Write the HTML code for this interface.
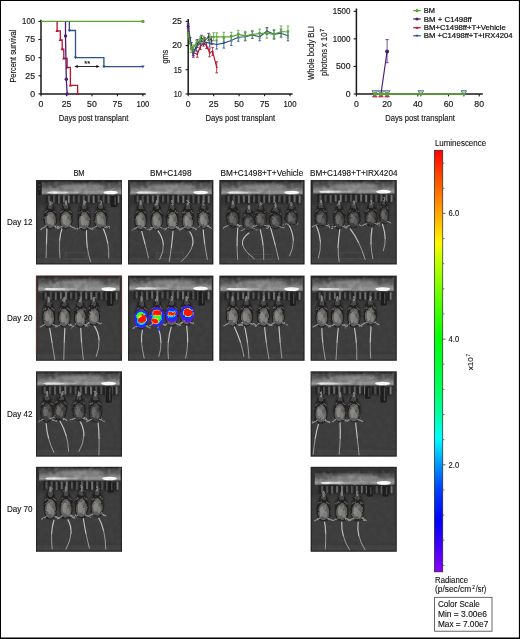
<!DOCTYPE html>
<html lang="en"><head><meta charset="utf-8"><title>Figure</title>
<style>html,body{margin:0;padding:0;background:#fff;}body{width:520px;height:639px;overflow:hidden;font-family:"Liberation Sans", sans-serif;}svg{display:block;font-family:"Liberation Sans", sans-serif;}</style></head><body>
<svg width="520" height="639" viewBox="0 0 520 639">

<defs>
<filter id="b1" x="-10%" y="-10%" width="120%" height="120%"><feGaussianBlur stdDeviation="2.6"/></filter>
<filter id="b2" x="-10%" y="-10%" width="120%" height="120%"><feGaussianBlur stdDeviation="4.5"/></filter>
<filter id="b3" x="-20%" y="-20%" width="140%" height="140%"><feGaussianBlur stdDeviation="7"/></filter>
<filter id="bt" x="-30%" y="-10%" width="160%" height="120%"><feGaussianBlur stdDeviation="1.8"/></filter>
<filter id="bl" x="-10%" y="-10%" width="120%" height="120%" color-interpolation-filters="sRGB">
 <feTurbulence type="fractalNoise" baseFrequency="0.035" numOctaves="2" seed="5" result="t"/>
 <feDisplacementMap in="SourceGraphic" in2="t" scale="17" xChannelSelector="R" yChannelSelector="G" result="d"/>
 <feGaussianBlur in="d" stdDeviation="2.6"/>
</filter>
<filter id="mf" x="-5%" y="-5%" width="110%" height="110%" color-interpolation-filters="sRGB">
 <feTurbulence type="fractalNoise" baseFrequency="0.045" numOctaves="2" seed="7" result="t"/>
 <feDisplacementMap in="SourceGraphic" in2="t" scale="16" xChannelSelector="R" yChannelSelector="G" result="d"/>
 <feGaussianBlur in="d" stdDeviation="3.0"/>
</filter>
<filter id="grain" x="0" y="0" width="100%" height="100%" color-interpolation-filters="sRGB">
 <feTurbulence type="fractalNoise" baseFrequency="0.03" numOctaves="2" seed="3" result="n"/>
 <feColorMatrix in="n" type="matrix" values="0 0 0 0 0  0 0 0 0 0  0 0 0 0 0  2.2 0 0 0 -0.75" result="na"/>
 <feFlood flood-color="#000"/>
 <feComposite in2="na" operator="in" result="dark"/>
 <feTurbulence type="fractalNoise" baseFrequency="0.035" numOctaves="2" seed="11" result="n2"/>
 <feColorMatrix in="n2" type="matrix" values="0 0 0 0 1  0 0 0 0 1  0 0 0 0 1  0 2.2 0 0 -0.8" result="light"/>
 <feMerge><feMergeNode in="dark"/><feMergeNode in="light"/></feMerge>
</filter>
<linearGradient id="barg" x1="0" y1="0" x2="0" y2="1">
 <stop offset="0" stop-color="#222222"/><stop offset="0.1" stop-color="#424242"/>
 <stop offset="0.38" stop-color="#5c5c5c"/><stop offset="0.58" stop-color="#7a7a7a"/>
 <stop offset="0.78" stop-color="#989898"/><stop offset="0.9" stop-color="#7c7c7c"/>
 <stop offset="0.96" stop-color="#3a3a3a"/><stop offset="1" stop-color="#141414"/>
</linearGradient>
<linearGradient id="bgg" x1="0" y1="0" x2="0" y2="1">
 <stop offset="0" stop-color="#2e2e2e"/><stop offset="0.3" stop-color="#373737"/>
 <stop offset="0.8" stop-color="#3b3b3b"/><stop offset="1" stop-color="#3a3a3a"/>
</linearGradient>
<linearGradient id="cbar" x1="0" y1="0" x2="0" y2="1">
 <stop offset="0" stop-color="#ff0000"/>
 <stop offset="0.07" stop-color="#ff5200"/>
 <stop offset="0.15" stop-color="#ffa600"/>
 <stop offset="0.22" stop-color="#fff800"/>
 <stop offset="0.26" stop-color="#c4ff00"/>
 <stop offset="0.38" stop-color="#40ff00"/>
 <stop offset="0.45" stop-color="#00ff06"/>
 <stop offset="0.57" stop-color="#00ff60"/>
 <stop offset="0.635" stop-color="#00ffb0"/>
 <stop offset="0.683" stop-color="#00ffff"/>
 <stop offset="0.747" stop-color="#0094ff"/>
 <stop offset="0.80" stop-color="#0044ff"/>
 <stop offset="0.88" stop-color="#0000ff"/>
 <stop offset="0.94" stop-color="#4200ff"/>
 <stop offset="1" stop-color="#8c00ff"/>
</linearGradient>
<g id="mouse">
 <!-- local coords: nose at (0,0), tail base (0,150) -->
 <ellipse cx="0" cy="84" rx="43" ry="72" fill="#2c2c2c" opacity="0.7"/>
 <path d="M0 10C-14 12 -24 30 -24 48C-35 62 -39 90 -36 116C-32 140 -16 151 0 151C16 151 32 140 36 116C39 90 35 62 24 48C24 30 14 12 0 10Z" fill="#202020"/>
 <path d="M-20 136L-50 150" stroke="#909090" stroke-width="6.5" stroke-linecap="round"/>
 <path d="M20 136L50 148" stroke="#909090" stroke-width="6.5" stroke-linecap="round"/>
 <path d="M-16 52L-31 62" stroke="#606060" stroke-width="5.5" stroke-linecap="round"/>
 <path d="M16 52L31 62" stroke="#606060" stroke-width="5.5" stroke-linecap="round"/>
 <path d="M0 56C-19 58 -32 84 -31 110C-30 132 -14 147 0 147C14 147 30 132 31 110C32 84 19 58 0 56Z" fill="#5f5d5b"/>
 <ellipse cx="-7" cy="100" rx="14" ry="26" fill="#8a8885"/>
 <ellipse cx="10" cy="116" rx="11" ry="18" fill="#7f7d7a"/>
 <ellipse cx="5" cy="78" rx="10" ry="11" fill="#74726f"/>
 <ellipse cx="0" cy="26" rx="13" ry="16" fill="#484848"/>
 <ellipse cx="0" cy="8" rx="7" ry="15" fill="#808080"/>
 <ellipse cx="-9" cy="36" rx="5" ry="4" fill="#4c4c4c"/>
 <ellipse cx="9" cy="36" rx="5" ry="4" fill="#4c4c4c"/>
</g>
<g id="mouseD">
 <!-- local coords: nose at (0,0), tail base (0,150) -->
 <ellipse cx="0" cy="84" rx="43" ry="72" fill="#2c2c2c" opacity="0.7"/>
 <path d="M0 10C-14 12 -24 30 -24 48C-35 62 -39 90 -36 116C-32 140 -16 151 0 151C16 151 32 140 36 116C39 90 35 62 24 48C24 30 14 12 0 10Z" fill="#202020"/>
 <path d="M-20 136L-50 150" stroke="#909090" stroke-width="6.5" stroke-linecap="round"/>
 <path d="M20 136L50 148" stroke="#909090" stroke-width="6.5" stroke-linecap="round"/>
 <path d="M-16 52L-31 62" stroke="#606060" stroke-width="5.5" stroke-linecap="round"/>
 <path d="M16 52L31 62" stroke="#606060" stroke-width="5.5" stroke-linecap="round"/>
 <path d="M0 56C-19 58 -32 84 -31 110C-30 132 -14 147 0 147C14 147 30 132 31 110C32 84 19 58 0 56Z" fill="#3f3e3d"/>
 <ellipse cx="-7" cy="100" rx="14" ry="26" fill="#6b6967"/>
 <ellipse cx="10" cy="116" rx="11" ry="18" fill="#5e5c5a"/>
 <ellipse cx="5" cy="78" rx="10" ry="11" fill="#525150"/>
 <ellipse cx="0" cy="26" rx="13" ry="16" fill="#484848"/>
 <ellipse cx="0" cy="8" rx="7" ry="15" fill="#808080"/>
 <ellipse cx="-9" cy="36" rx="5" ry="4" fill="#4c4c4c"/>
 <ellipse cx="9" cy="36" rx="5" ry="4" fill="#4c4c4c"/>
</g>
</defs>

<rect x="0" y="0" width="520" height="639" fill="#fff"/>
<g id="chart1" opacity="0.999"><path d="M41.0 19.799999999999997V93.9H145.70000000000002" fill="none" stroke="#1a1a1a" stroke-width="1.5"/>
<path d="M38.4 93.90H41.0" stroke="#1a1a1a" stroke-width="1.1"/>
<text x="35.0" y="96.80000000000001" font-size="8.2" text-anchor="end" textLength="4.85" lengthAdjust="spacingAndGlyphs" fill="#1c1c1c" stroke="#1c1c1c" stroke-width="0.18" >0</text>
<path d="M38.4 75.78H41.0" stroke="#1a1a1a" stroke-width="1.1"/>
<text x="35.0" y="78.67500000000001" font-size="8.2" text-anchor="end" textLength="9.7" lengthAdjust="spacingAndGlyphs" fill="#1c1c1c" stroke="#1c1c1c" stroke-width="0.18" >25</text>
<path d="M38.4 57.65H41.0" stroke="#1a1a1a" stroke-width="1.1"/>
<text x="35.0" y="60.550000000000004" font-size="8.2" text-anchor="end" textLength="9.7" lengthAdjust="spacingAndGlyphs" fill="#1c1c1c" stroke="#1c1c1c" stroke-width="0.18" >50</text>
<path d="M38.4 39.53H41.0" stroke="#1a1a1a" stroke-width="1.1"/>
<text x="35.0" y="42.425000000000004" font-size="8.2" text-anchor="end" textLength="9.7" lengthAdjust="spacingAndGlyphs" fill="#1c1c1c" stroke="#1c1c1c" stroke-width="0.18" >75</text>
<path d="M38.4 21.40H41.0" stroke="#1a1a1a" stroke-width="1.1"/>
<text x="35.0" y="24.300000000000004" font-size="8.2" text-anchor="end" textLength="12.9" lengthAdjust="spacingAndGlyphs" fill="#1c1c1c" stroke="#1c1c1c" stroke-width="0.18" >100</text>
<path d="M41.00 93.9V96.30000000000001" stroke="#1a1a1a" stroke-width="1.1"/>
<text x="41.0" y="107.2" font-size="8.2" text-anchor="middle" textLength="4.85" lengthAdjust="spacingAndGlyphs" fill="#1c1c1c" stroke="#1c1c1c" stroke-width="0.18" >0</text>
<path d="M66.47 93.9V96.30000000000001" stroke="#1a1a1a" stroke-width="1.1"/>
<text x="66.475" y="107.2" font-size="8.2" text-anchor="middle" textLength="9.7" lengthAdjust="spacingAndGlyphs" fill="#1c1c1c" stroke="#1c1c1c" stroke-width="0.18" >25</text>
<path d="M91.95 93.9V96.30000000000001" stroke="#1a1a1a" stroke-width="1.1"/>
<text x="91.95" y="107.2" font-size="8.2" text-anchor="middle" textLength="9.7" lengthAdjust="spacingAndGlyphs" fill="#1c1c1c" stroke="#1c1c1c" stroke-width="0.18" >50</text>
<path d="M117.42 93.9V96.30000000000001" stroke="#1a1a1a" stroke-width="1.1"/>
<text x="117.425" y="107.2" font-size="8.2" text-anchor="middle" textLength="9.7" lengthAdjust="spacingAndGlyphs" fill="#1c1c1c" stroke="#1c1c1c" stroke-width="0.18" >75</text>
<path d="M142.90 93.9V96.30000000000001" stroke="#1a1a1a" stroke-width="1.1"/>
<text x="142.9" y="107.2" font-size="8.2" text-anchor="middle" textLength="12.9" lengthAdjust="spacingAndGlyphs" fill="#1c1c1c" stroke="#1c1c1c" stroke-width="0.18" >100</text>
<path d="M41.0 21.4H142.9" stroke="#5aa52e" stroke-width="1.3" fill="none"/>
<circle cx="142.9" cy="21.4" r="1.7" fill="#5aa52e"/>
<path d="M57.1 21.4V30.8H60.3V40.0H62.2V49.2H63.8V58.3H67.1V67.3H70.4V85.3H77.6V93.9" fill="none" stroke="#b5122f" stroke-width="1.3"/>
<path d="M55.40 31.90L57.1 29.20L58.80 31.90Z" fill="#b5122f"/>
<path d="M58.60 41.10L60.3 38.40L62.00 41.10Z" fill="#b5122f"/>
<path d="M60.50 50.30L62.2 47.60L63.90 50.30Z" fill="#b5122f"/>
<path d="M62.10 59.40L63.8 56.70L65.50 59.40Z" fill="#b5122f"/>
<path d="M65.40 68.40L67.1 65.70L68.80 68.40Z" fill="#b5122f"/>
<path d="M68.70 86.40L70.4 83.70L72.10 86.40Z" fill="#b5122f"/>
<path d="M75.90 95.00L77.6 92.30L79.30 95.00Z" fill="#b5122f"/>
<path d="M69.35 21.4V30.5H75.5V57.65H103.9V66.7H142.9" fill="none" stroke="#2f4f8f" stroke-width="1.3"/>
<path d="M67.65 29.40L69.35 32.10L71.05 29.40Z" fill="#2f4f8f"/>
<path d="M73.80 56.55L75.5 59.25L77.20 56.55Z" fill="#2f4f8f"/>
<path d="M102.20 65.60L103.9 68.30L105.60 65.60Z" fill="#2f4f8f"/>
<path d="M141.20 65.60L142.9 68.30L144.60 65.60Z" fill="#2f4f8f"/>
<path d="M65.5 21.4V35.9L66.3 79.3L67.2 93.9" fill="none" stroke="#4a1f73" stroke-width="1.3"/>
<circle cx="65.5" cy="35.9" r="1.7" fill="#4a1f73"/>
<circle cx="66.3" cy="79.3" r="1.7" fill="#4a1f73"/>
<circle cx="67.2" cy="93.9" r="1.7" fill="#4a1f73"/>
<path d="M76.5 66.5H97.8" stroke="#111" stroke-width="0.9"/>
<path d="M74.3 66.5L77.8 65.0V68.0Z" fill="#111"/>
<path d="M99.8 66.5L96.3 65.0V68.0Z" fill="#111"/>
<text x="87.2" y="66.4" font-size="7.5" text-anchor="middle" fill="#111" stroke="#111" stroke-width="0.12" >**</text>
<text x="58.7" y="120.8" font-size="9.9" text-anchor="start" textLength="69.6" lengthAdjust="spacingAndGlyphs" fill="#1a1a1a" stroke="#1a1a1a" stroke-width="0.18" >Days post transplant</text>
<g transform="translate(16.0 82.6) rotate(-90)"><text x="0" y="0" font-size="9.9" text-anchor="start" textLength="53.0" lengthAdjust="spacingAndGlyphs" fill="#1a1a1a" stroke="#1a1a1a" stroke-width="0.18" >Percent survival</text></g></g>
<g id="chart2" opacity="0.999"><path d="M188.2 19.0V93.95H292.6" fill="none" stroke="#1a1a1a" stroke-width="1.5"/>
<path d="M185.6 93.95H188.2" stroke="#1a1a1a" stroke-width="1.1"/>
<text x="181.89999999999998" y="96.85000000000001" font-size="8.2" text-anchor="end" textLength="8.05" lengthAdjust="spacingAndGlyphs" fill="#1c1c1c" stroke="#1c1c1c" stroke-width="0.18" >10</text>
<path d="M185.6 69.73H188.2" stroke="#1a1a1a" stroke-width="1.1"/>
<text x="181.89999999999998" y="72.63333333333334" font-size="8.2" text-anchor="end" textLength="8.05" lengthAdjust="spacingAndGlyphs" fill="#1c1c1c" stroke="#1c1c1c" stroke-width="0.18" >15</text>
<path d="M185.6 45.52H188.2" stroke="#1a1a1a" stroke-width="1.1"/>
<text x="181.89999999999998" y="48.41666666666667" font-size="8.2" text-anchor="end" textLength="9.7" lengthAdjust="spacingAndGlyphs" fill="#1c1c1c" stroke="#1c1c1c" stroke-width="0.18" >20</text>
<path d="M185.6 21.30H188.2" stroke="#1a1a1a" stroke-width="1.1"/>
<text x="181.89999999999998" y="24.199999999999996" font-size="8.2" text-anchor="end" textLength="9.7" lengthAdjust="spacingAndGlyphs" fill="#1c1c1c" stroke="#1c1c1c" stroke-width="0.18" >25</text>
<path d="M188.20 93.95V96.35000000000001" stroke="#1a1a1a" stroke-width="1.1"/>
<text x="188.2" y="107.2" font-size="8.2" text-anchor="middle" textLength="4.85" lengthAdjust="spacingAndGlyphs" fill="#1c1c1c" stroke="#1c1c1c" stroke-width="0.18" >0</text>
<path d="M213.65 93.95V96.35000000000001" stroke="#1a1a1a" stroke-width="1.1"/>
<text x="213.64999999999998" y="107.2" font-size="8.2" text-anchor="middle" textLength="9.7" lengthAdjust="spacingAndGlyphs" fill="#1c1c1c" stroke="#1c1c1c" stroke-width="0.18" >25</text>
<path d="M239.10 93.95V96.35000000000001" stroke="#1a1a1a" stroke-width="1.1"/>
<text x="239.1" y="107.2" font-size="8.2" text-anchor="middle" textLength="9.7" lengthAdjust="spacingAndGlyphs" fill="#1c1c1c" stroke="#1c1c1c" stroke-width="0.18" >50</text>
<path d="M264.55 93.95V96.35000000000001" stroke="#1a1a1a" stroke-width="1.1"/>
<text x="264.55" y="107.2" font-size="8.2" text-anchor="middle" textLength="9.7" lengthAdjust="spacingAndGlyphs" fill="#1c1c1c" stroke="#1c1c1c" stroke-width="0.18" >75</text>
<path d="M290.00 93.95V96.35000000000001" stroke="#1a1a1a" stroke-width="1.1"/>
<text x="290.0" y="107.2" font-size="8.2" text-anchor="middle" textLength="12.9" lengthAdjust="spacingAndGlyphs" fill="#1c1c1c" stroke="#1c1c1c" stroke-width="0.18" >100</text>
<path d="M188.20 23.94V28.34M186.90 23.94H189.50M186.90 28.34H189.50" stroke="#4a1f73" stroke-width="0.85" fill="none"/>
<path d="M190.24 37.67V43.67M188.94 37.67H191.54M188.94 43.67H191.54" stroke="#4a1f73" stroke-width="0.85" fill="none"/>
<path d="M193.29 50.25V57.25M191.99 50.25H194.59M191.99 57.25H194.59" stroke="#4a1f73" stroke-width="0.85" fill="none"/>
<path d="M197.36 39.58V47.58M196.06 39.58H198.66M196.06 47.58H198.66" stroke="#4a1f73" stroke-width="0.85" fill="none"/>
<path d="M201.43 35.25V41.25M200.13 35.25H202.73M200.13 41.25H202.73" stroke="#4a1f73" stroke-width="0.85" fill="none"/>
<path d="M204.49 37.67V43.67M203.19 37.67H205.79M203.19 43.67H205.79" stroke="#4a1f73" stroke-width="0.85" fill="none"/>
<path d="M208.56 33.30V40.30M207.26 33.30H209.86M207.26 40.30H209.86" stroke="#4a1f73" stroke-width="0.85" fill="none"/>
<path d="M211.61 36.67V44.67M210.31 36.67H212.91M210.31 44.67H212.91" stroke="#4a1f73" stroke-width="0.85" fill="none"/>
<path d="M188.20 26.14L190.24 40.67L193.29 53.75L197.36 43.58L201.43 38.25L204.49 40.67L208.56 36.80L211.61 40.67" fill="none" stroke="#4a1f73" stroke-width="1.15" stroke-linejoin="round"/>
<circle cx="188.20" cy="26.14" r="1.0" fill="#4a1f73"/>
<circle cx="190.24" cy="40.67" r="1.0" fill="#4a1f73"/>
<circle cx="193.29" cy="53.75" r="1.0" fill="#4a1f73"/>
<circle cx="197.36" cy="43.58" r="1.0" fill="#4a1f73"/>
<circle cx="201.43" cy="38.25" r="1.0" fill="#4a1f73"/>
<circle cx="204.49" cy="40.67" r="1.0" fill="#4a1f73"/>
<circle cx="208.56" cy="36.80" r="1.0" fill="#4a1f73"/>
<circle cx="211.61" cy="40.67" r="1.0" fill="#4a1f73"/>
<path d="M188.20 28.99V32.99M186.90 28.99H189.50M186.90 32.99H189.50" stroke="#b5122f" stroke-width="0.85" fill="none"/>
<path d="M191.25 42.52V48.52M189.95 42.52H192.55M189.95 48.52H192.55" stroke="#b5122f" stroke-width="0.85" fill="none"/>
<path d="M193.29 49.78V55.78M191.99 49.78H194.59M191.99 55.78H194.59" stroke="#b5122f" stroke-width="0.85" fill="none"/>
<path d="M197.36 51.23V57.23M196.06 51.23H198.66M196.06 57.23H198.66" stroke="#b5122f" stroke-width="0.85" fill="none"/>
<path d="M200.42 43.49V49.49M199.12 43.49H201.72M199.12 49.49H201.72" stroke="#b5122f" stroke-width="0.85" fill="none"/>
<path d="M203.47 40.09V46.09M202.17 40.09H204.77M202.17 46.09H204.77" stroke="#b5122f" stroke-width="0.85" fill="none"/>
<path d="M206.52 42.52V48.52M205.22 42.52H207.82M205.22 48.52H207.82" stroke="#b5122f" stroke-width="0.85" fill="none"/>
<path d="M209.58 48.78V56.78M208.28 48.78H210.88M208.28 56.78H210.88" stroke="#b5122f" stroke-width="0.85" fill="none"/>
<path d="M212.63 47.33V55.33M211.33 47.33H213.93M211.33 55.33H213.93" stroke="#b5122f" stroke-width="0.85" fill="none"/>
<path d="M216.70 61.81V72.81M215.40 61.81H218.00M215.40 72.81H218.00" stroke="#b5122f" stroke-width="0.85" fill="none"/>
<path d="M188.20 30.99L191.25 45.52L193.29 52.78L197.36 54.23L200.42 46.49L203.47 43.09L206.52 45.52L209.58 52.78L212.63 51.33L216.70 67.31" fill="none" stroke="#b5122f" stroke-width="1.15" stroke-linejoin="round"/>
<path d="M187.10 31.79L188.20 29.89L189.30 31.79Z" fill="#b5122f"/>
<path d="M190.15 46.32L191.25 44.42L192.35 46.32Z" fill="#b5122f"/>
<path d="M192.19 53.58L193.29 51.68L194.39 53.58Z" fill="#b5122f"/>
<path d="M196.26 55.03L197.36 53.13L198.46 55.03Z" fill="#b5122f"/>
<path d="M199.32 47.29L200.42 45.39L201.52 47.29Z" fill="#b5122f"/>
<path d="M202.37 43.89L203.47 41.99L204.57 43.89Z" fill="#b5122f"/>
<path d="M205.42 46.32L206.52 44.42L207.62 46.32Z" fill="#b5122f"/>
<path d="M208.48 53.58L209.58 51.68L210.68 53.58Z" fill="#b5122f"/>
<path d="M211.53 52.13L212.63 50.23L213.73 52.13Z" fill="#b5122f"/>
<path d="M215.60 68.11L216.70 66.21L217.80 68.11Z" fill="#b5122f"/>
<path d="M188.20 24.14V28.14M186.90 24.14H189.50M186.90 28.14H189.50" stroke="#2f4f8f" stroke-width="0.85" fill="none"/>
<path d="M191.25 42.52V48.52M189.95 42.52H192.55M189.95 48.52H192.55" stroke="#2f4f8f" stroke-width="0.85" fill="none"/>
<path d="M193.29 49.30V55.30M191.99 49.30H194.59M191.99 55.30H194.59" stroke="#2f4f8f" stroke-width="0.85" fill="none"/>
<path d="M196.34 44.94V50.94M195.04 44.94H197.64M195.04 50.94H197.64" stroke="#2f4f8f" stroke-width="0.85" fill="none"/>
<path d="M200.42 38.64V44.64M199.12 38.64H201.72M199.12 44.64H201.72" stroke="#2f4f8f" stroke-width="0.85" fill="none"/>
<path d="M203.47 38.64V44.64M202.17 38.64H204.77M202.17 44.64H204.77" stroke="#2f4f8f" stroke-width="0.85" fill="none"/>
<path d="M209.58 39.09V47.09M208.28 39.09H210.88M208.28 47.09H210.88" stroke="#2f4f8f" stroke-width="0.85" fill="none"/>
<path d="M216.70 40.05V49.05M215.40 40.05H218.00M215.40 49.05H218.00" stroke="#2f4f8f" stroke-width="0.85" fill="none"/>
<path d="M223.83 38.09V48.09M222.53 38.09H225.13M222.53 48.09H225.13" stroke="#2f4f8f" stroke-width="0.85" fill="none"/>
<path d="M231.26 35.43V45.43M229.96 35.43H232.56M229.96 45.43H232.56" stroke="#2f4f8f" stroke-width="0.85" fill="none"/>
<path d="M238.29 33.28V41.28M236.99 33.28H239.59M236.99 41.28H239.59" stroke="#2f4f8f" stroke-width="0.85" fill="none"/>
<path d="M245.21 32.80V40.80M243.91 32.80H246.51M243.91 40.80H246.51" stroke="#2f4f8f" stroke-width="0.85" fill="none"/>
<path d="M252.33 31.36V38.36M251.03 31.36H253.63M251.03 38.36H253.63" stroke="#2f4f8f" stroke-width="0.85" fill="none"/>
<path d="M259.66 32.80V40.80M258.36 32.80H260.96M258.36 40.80H260.96" stroke="#2f4f8f" stroke-width="0.85" fill="none"/>
<path d="M266.89 27.49V34.49M265.59 27.49H268.19M265.59 34.49H268.19" stroke="#2f4f8f" stroke-width="0.85" fill="none"/>
<path d="M274.02 30.38V38.38M272.72 30.38H275.32M272.72 38.38H275.32" stroke="#2f4f8f" stroke-width="0.85" fill="none"/>
<path d="M281.04 29.17V37.17M279.74 29.17H282.34M279.74 37.17H282.34" stroke="#2f4f8f" stroke-width="0.85" fill="none"/>
<path d="M287.96 30.83V40.83M286.66 30.83H289.26M286.66 40.83H289.26" stroke="#2f4f8f" stroke-width="0.85" fill="none"/>
<path d="M188.20 26.14L191.25 45.52L193.29 52.30L196.34 47.94L200.42 41.64L203.47 41.64L209.58 43.09L216.70 44.55L223.83 43.09L231.26 40.43L238.29 37.28L245.21 36.80L252.33 34.86L259.66 36.80L266.89 30.99L274.02 34.38L281.04 33.17L287.96 35.83" fill="none" stroke="#2f4f8f" stroke-width="1.15" stroke-linejoin="round"/>
<path d="M187.10 25.34L188.20 27.24L189.30 25.34Z" fill="#2f4f8f"/>
<path d="M190.15 44.72L191.25 46.62L192.35 44.72Z" fill="#2f4f8f"/>
<path d="M192.19 51.50L193.29 53.40L194.39 51.50Z" fill="#2f4f8f"/>
<path d="M195.24 47.14L196.34 49.04L197.44 47.14Z" fill="#2f4f8f"/>
<path d="M199.32 40.84L200.42 42.74L201.52 40.84Z" fill="#2f4f8f"/>
<path d="M202.37 40.84L203.47 42.74L204.57 40.84Z" fill="#2f4f8f"/>
<path d="M208.48 42.30L209.58 44.20L210.68 42.30Z" fill="#2f4f8f"/>
<path d="M215.60 43.75L216.70 45.65L217.80 43.75Z" fill="#2f4f8f"/>
<path d="M222.73 42.30L223.83 44.20L224.93 42.30Z" fill="#2f4f8f"/>
<path d="M230.16 39.63L231.26 41.53L232.36 39.63Z" fill="#2f4f8f"/>
<path d="M237.19 36.48L238.29 38.38L239.39 36.48Z" fill="#2f4f8f"/>
<path d="M244.11 36.00L245.21 37.90L246.31 36.00Z" fill="#2f4f8f"/>
<path d="M251.23 34.06L252.33 35.96L253.43 34.06Z" fill="#2f4f8f"/>
<path d="M258.56 36.00L259.66 37.90L260.76 36.00Z" fill="#2f4f8f"/>
<path d="M265.79 30.19L266.89 32.09L267.99 30.19Z" fill="#2f4f8f"/>
<path d="M272.92 33.58L274.02 35.48L275.12 33.58Z" fill="#2f4f8f"/>
<path d="M279.94 32.37L281.04 34.27L282.14 32.37Z" fill="#2f4f8f"/>
<path d="M286.86 35.03L287.96 36.93L289.06 35.03Z" fill="#2f4f8f"/>
<path d="M188.20 32.38V36.38M186.90 32.38H189.50M186.90 36.38H189.50" stroke="#5aa52e" stroke-width="0.85" fill="none"/>
<path d="M191.25 46.39V52.39M189.95 46.39H192.55M189.95 52.39H192.55" stroke="#5aa52e" stroke-width="0.85" fill="none"/>
<path d="M193.29 44.94V50.94M191.99 44.94H194.59M191.99 50.94H194.59" stroke="#5aa52e" stroke-width="0.85" fill="none"/>
<path d="M196.34 40.09V46.09M195.04 40.09H197.64M195.04 46.09H197.64" stroke="#5aa52e" stroke-width="0.85" fill="none"/>
<path d="M200.42 36.70V42.70M199.12 36.70H201.72M199.12 42.70H201.72" stroke="#5aa52e" stroke-width="0.85" fill="none"/>
<path d="M203.47 36.22V42.22M202.17 36.22H204.77M202.17 42.22H204.77" stroke="#5aa52e" stroke-width="0.85" fill="none"/>
<path d="M209.58 34.75V41.75M208.28 34.75H210.88M208.28 41.75H210.88" stroke="#5aa52e" stroke-width="0.85" fill="none"/>
<path d="M213.65 32.80V40.80M212.35 32.80H214.95M212.35 40.80H214.95" stroke="#5aa52e" stroke-width="0.85" fill="none"/>
<path d="M216.70 32.80V40.80M215.40 32.80H218.00M215.40 40.80H218.00" stroke="#5aa52e" stroke-width="0.85" fill="none"/>
<path d="M223.83 32.30V41.30M222.53 32.30H225.13M222.53 41.30H225.13" stroke="#5aa52e" stroke-width="0.85" fill="none"/>
<path d="M231.26 32.30V41.30M229.96 32.30H232.56M229.96 41.30H232.56" stroke="#5aa52e" stroke-width="0.85" fill="none"/>
<path d="M238.29 30.38V38.38M236.99 30.38H239.59M236.99 38.38H239.59" stroke="#5aa52e" stroke-width="0.85" fill="none"/>
<path d="M245.21 31.33V40.33M243.91 31.33H246.51M243.91 40.33H246.51" stroke="#5aa52e" stroke-width="0.85" fill="none"/>
<path d="M252.33 30.38V38.38M251.03 30.38H253.63M251.03 38.38H253.63" stroke="#5aa52e" stroke-width="0.85" fill="none"/>
<path d="M259.66 29.15V38.15M258.36 29.15H260.96M258.36 38.15H260.96" stroke="#5aa52e" stroke-width="0.85" fill="none"/>
<path d="M266.89 28.17V38.17M265.59 28.17H268.19M265.59 38.17H268.19" stroke="#5aa52e" stroke-width="0.85" fill="none"/>
<path d="M274.02 29.38V39.38M272.72 29.38H275.32M272.72 39.38H275.32" stroke="#5aa52e" stroke-width="0.85" fill="none"/>
<path d="M281.04 25.97V36.97M279.74 25.97H282.34M279.74 36.97H282.34" stroke="#5aa52e" stroke-width="0.85" fill="none"/>
<path d="M287.96 25.96V37.96M286.66 25.96H289.26M286.66 37.96H289.26" stroke="#5aa52e" stroke-width="0.85" fill="none"/>
<path d="M188.20 34.38L191.25 49.39L193.29 47.94L196.34 43.09L200.42 39.70L203.47 39.22L209.58 38.25L213.65 36.80L216.70 36.80L223.83 36.80L231.26 36.80L238.29 34.38L245.21 35.83L252.33 34.38L259.66 33.65L266.89 33.17L274.02 34.38L281.04 31.47L287.96 31.96" fill="none" stroke="#5aa52e" stroke-width="1.15" stroke-linejoin="round"/>
<circle cx="188.20" cy="34.38" r="1.0" fill="#5aa52e"/>
<circle cx="191.25" cy="49.39" r="1.0" fill="#5aa52e"/>
<circle cx="193.29" cy="47.94" r="1.0" fill="#5aa52e"/>
<circle cx="196.34" cy="43.09" r="1.0" fill="#5aa52e"/>
<circle cx="200.42" cy="39.70" r="1.0" fill="#5aa52e"/>
<circle cx="203.47" cy="39.22" r="1.0" fill="#5aa52e"/>
<circle cx="209.58" cy="38.25" r="1.0" fill="#5aa52e"/>
<circle cx="213.65" cy="36.80" r="1.0" fill="#5aa52e"/>
<circle cx="216.70" cy="36.80" r="1.0" fill="#5aa52e"/>
<circle cx="223.83" cy="36.80" r="1.0" fill="#5aa52e"/>
<circle cx="231.26" cy="36.80" r="1.0" fill="#5aa52e"/>
<circle cx="238.29" cy="34.38" r="1.0" fill="#5aa52e"/>
<circle cx="245.21" cy="35.83" r="1.0" fill="#5aa52e"/>
<circle cx="252.33" cy="34.38" r="1.0" fill="#5aa52e"/>
<circle cx="259.66" cy="33.65" r="1.0" fill="#5aa52e"/>
<circle cx="266.89" cy="33.17" r="1.0" fill="#5aa52e"/>
<circle cx="274.02" cy="34.38" r="1.0" fill="#5aa52e"/>
<circle cx="281.04" cy="31.47" r="1.0" fill="#5aa52e"/>
<circle cx="287.96" cy="31.96" r="1.0" fill="#5aa52e"/>
<circle cx="188.20" cy="26.14" r="1.5" fill="#4a1f73"/>
<text x="205.5" y="120.8" font-size="9.9" text-anchor="start" textLength="69.6" lengthAdjust="spacingAndGlyphs" fill="#1a1a1a" stroke="#1a1a1a" stroke-width="0.18" >Days post transplant</text>
<g transform="translate(167.6 63.6) rotate(-90)"><text x="0" y="0" font-size="9.9" text-anchor="start" textLength="13.8" lengthAdjust="spacingAndGlyphs" fill="#1a1a1a" stroke="#1a1a1a" stroke-width="0.18" >gms</text></g></g>
<g id="chart3" opacity="0.999"><path d="M356.4 8.5V94.0H482.80" fill="none" stroke="#1a1a1a" stroke-width="1.5"/>
<path d="M353.59999999999997 94.00H356.4" stroke="#1a1a1a" stroke-width="1.1"/>
<text x="350.5" y="96.9" font-size="8.2" text-anchor="end" textLength="4.85" lengthAdjust="spacingAndGlyphs" fill="#1c1c1c" stroke="#1c1c1c" stroke-width="0.18" >0</text>
<path d="M353.59999999999997 66.43H356.4" stroke="#1a1a1a" stroke-width="1.1"/>
<text x="350.5" y="69.33333333333334" font-size="8.2" text-anchor="end" textLength="14.55" lengthAdjust="spacingAndGlyphs" fill="#1c1c1c" stroke="#1c1c1c" stroke-width="0.18" >500</text>
<path d="M353.59999999999997 38.87H356.4" stroke="#1a1a1a" stroke-width="1.1"/>
<text x="350.5" y="41.766666666666666" font-size="8.2" text-anchor="end" textLength="17.75" lengthAdjust="spacingAndGlyphs" fill="#1c1c1c" stroke="#1c1c1c" stroke-width="0.18" >1000</text>
<path d="M353.59999999999997 11.30H356.4" stroke="#1a1a1a" stroke-width="1.1"/>
<text x="350.5" y="14.199999999999998" font-size="8.2" text-anchor="end" textLength="17.75" lengthAdjust="spacingAndGlyphs" fill="#1c1c1c" stroke="#1c1c1c" stroke-width="0.18" >1500</text>
<path d="M356.40 94.0V96.4" stroke="#1a1a1a" stroke-width="1.1"/>
<text x="356.4" y="107.2" font-size="8.2" text-anchor="middle" textLength="4.85" lengthAdjust="spacingAndGlyphs" fill="#1c1c1c" stroke="#1c1c1c" stroke-width="0.18" >0</text>
<path d="M387.10 94.0V96.4" stroke="#1a1a1a" stroke-width="1.1"/>
<text x="387.09999999999997" y="107.2" font-size="8.2" text-anchor="middle" textLength="9.7" lengthAdjust="spacingAndGlyphs" fill="#1c1c1c" stroke="#1c1c1c" stroke-width="0.18" >20</text>
<path d="M417.80 94.0V96.4" stroke="#1a1a1a" stroke-width="1.1"/>
<text x="417.79999999999995" y="107.2" font-size="8.2" text-anchor="middle" textLength="9.7" lengthAdjust="spacingAndGlyphs" fill="#1c1c1c" stroke="#1c1c1c" stroke-width="0.18" >40</text>
<path d="M448.50 94.0V96.4" stroke="#1a1a1a" stroke-width="1.1"/>
<text x="448.5" y="107.2" font-size="8.2" text-anchor="middle" textLength="9.7" lengthAdjust="spacingAndGlyphs" fill="#1c1c1c" stroke="#1c1c1c" stroke-width="0.18" >60</text>
<path d="M479.20 94.0V96.4" stroke="#1a1a1a" stroke-width="1.1"/>
<text x="479.2" y="107.2" font-size="8.2" text-anchor="middle" textLength="9.7" lengthAdjust="spacingAndGlyphs" fill="#1c1c1c" stroke="#1c1c1c" stroke-width="0.18" >80</text>
<path d="M372.02 90.7H377.62L374.82 95.4Z" fill="#cdd6ec" stroke="#2f4f8f" stroke-width="0.75"/>
<path d="M378.16 90.7H383.76L380.96 95.4Z" fill="#cdd6ec" stroke="#2f4f8f" stroke-width="0.75"/>
<path d="M384.30 90.7H389.90L387.10 95.4Z" fill="#cdd6ec" stroke="#2f4f8f" stroke-width="0.75"/>
<path d="M418.07 90.7H423.67L420.87 95.4Z" fill="#cdd6ec" stroke="#2f4f8f" stroke-width="0.75"/>
<path d="M461.05 90.7H466.65L463.85 95.4Z" fill="#cdd6ec" stroke="#2f4f8f" stroke-width="0.75"/>
<path d="M372.42 96.7H377.22L374.82 93.0Z" fill="#b5122f"/>
<path d="M372.22 96.9H377.42" stroke="#b5122f" stroke-width="0.8"/>
<path d="M378.56 96.7H383.36L380.96 93.0Z" fill="#b5122f"/>
<path d="M378.36 96.9H383.56" stroke="#b5122f" stroke-width="0.8"/>
<path d="M384.70 96.7H389.50L387.10 93.0Z" fill="#b5122f"/>
<path d="M384.50 96.9H389.70" stroke="#b5122f" stroke-width="0.8"/>
<path d="M374.82 94.0L380.96 94.0L387.10 51.4" fill="none" stroke="#4a1f73" stroke-width="1.15"/>
<path d="M387.10 39.6V62.7M385.40 39.6H388.80M385.40 62.7H388.80" stroke="#4a1f73" stroke-width="0.75" fill="none"/>
<circle cx="387.10" cy="51.4" r="2.0" fill="#4a1f73"/>
<path d="M374.82 94.0H463.85" stroke="#62ad38" stroke-width="1.7"/>
<circle cx="374.82" cy="94.0" r="1.9" fill="#5aa52e"/>
<circle cx="380.96" cy="94.0" r="1.9" fill="#5aa52e"/>
<circle cx="387.10" cy="94.0" r="1.9" fill="#5aa52e"/>
<path d="M418.57 92.8H423.17L420.87 97.2Z" fill="#5aa52e"/>
<path d="M461.55 92.8H466.15L463.85 97.2Z" fill="#5aa52e"/>
<text x="385.2" y="120.8" font-size="9.9" text-anchor="start" textLength="69.6" lengthAdjust="spacingAndGlyphs" fill="#1a1a1a" stroke="#1a1a1a" stroke-width="0.18" >Days post transplant</text>
<g transform="translate(314.1 80.0) rotate(-90)"><text x="0" y="0" font-size="9.9" text-anchor="start" textLength="53.8" lengthAdjust="spacingAndGlyphs" fill="#1a1a1a" stroke="#1a1a1a" stroke-width="0.18" >Whole body BLI</text></g>
<g transform="translate(327.0 76.1) rotate(-90)"><text x="0" y="0" font-size="9.9" text-anchor="start" textLength="43.6" lengthAdjust="spacingAndGlyphs" fill="#1a1a1a" stroke="#1a1a1a" stroke-width="0.18" >photons x 10</text><text x="44.0" y="-3.4" font-size="5.8" text-anchor="start" fill="#1a1a1a" stroke="#1a1a1a" stroke-width="0.18" >7</text></g>
<path d="M413.2 10.6H420.8" stroke="#5aa52e" stroke-width="1.2"/>
<circle cx="417" cy="10.6" r="1.6" fill="#5aa52e"/>
<text x="423.8" y="13.1" font-size="7.8" text-anchor="start" textLength="11.2" lengthAdjust="spacingAndGlyphs" fill="#111" stroke="#111" stroke-width="0.22" >BM</text>
<path d="M413.2 19.0H420.8" stroke="#4a1f73" stroke-width="1.2"/>
<circle cx="417" cy="19.0" r="1.6" fill="#4a1f73"/>
<text x="423.8" y="21.5" font-size="7.8" text-anchor="start" textLength="48.0" lengthAdjust="spacingAndGlyphs" fill="#111" stroke="#111" stroke-width="0.22" >BM + C1498ff</text>
<path d="M413.2 27.7H420.8" stroke="#b5122f" stroke-width="1.2"/>
<path d="M415.5 28.8H418.5L417 26.3Z" fill="#b5122f"/>
<text x="423.8" y="30.2" font-size="7.8" text-anchor="start" textLength="82.0" lengthAdjust="spacingAndGlyphs" fill="#111" stroke="#111" stroke-width="0.22" >BM+C1498ff+T+Vehicle</text>
<path d="M413.2 35.8H420.8" stroke="#2f4f8f" stroke-width="1.2"/>
<path d="M415.5 34.699999999999996H418.5L417 37.199999999999996Z" fill="#2f4f8f"/>
<text x="423.8" y="38.3" font-size="7.8" text-anchor="start" textLength="88.8" lengthAdjust="spacingAndGlyphs" fill="#111" stroke="#111" stroke-width="0.22" >BM +C1498ff+T+IRX4204</text></g>
<g id="panels"><clipPath id="clip36_180"><rect x="36.0" y="180.0" width="86.0" height="84.5"/></clipPath>
<rect x="36.0" y="180.0" width="86.0" height="84.5" fill="#262626"/>
<g clip-path="url(#clip36_180)">
<g transform="translate(34 178) scale(0.17308)">
<rect x="19.6" y="19.6" width="480.9" height="472.2" fill="url(#bgg)" filter="url(#b1)"/>
<rect x="19.6" y="19.6" width="480.9" height="134.4" fill="#333333" filter="url(#b1)"/>
<rect x="25.6" y="170.0" width="468.9" height="281.8" fill="#3d3d3d" filter="url(#b3)"/>
<rect x="19.6" y="461.8" width="480.9" height="30" fill="#434343" filter="url(#b1)"/>
<rect x="19.6" y="20" width="25.4" height="80" fill="#1c1c1c" filter="url(#b1)"/>
<rect x="25.6" y="38" width="11.4" height="6" fill="#555" filter="url(#b1)"/>
<rect x="25.6" y="60" width="11.4" height="6" fill="#4a4a4a" filter="url(#b1)"/>
<g filter="url(#b1)">
<rect x="45" y="20" width="460" height="80" fill="url(#barg)"/>
</g>
<ellipse cx="275.0" cy="53.6" rx="138.0" ry="17.6" fill="#8c8c8c" opacity="0.75" filter="url(#b3)"/>
<g filter="url(#b2)">
<ellipse cx="169.2" cy="84.0" rx="96.6" ry="6.4" fill="#b0b0b0"/>
<ellipse cx="137.0" cy="84.0" rx="59.8" ry="6.0" fill="#dadada"/>
<ellipse cx="109.4" cy="84.0" rx="27.6" ry="5.6" fill="#f2f2f2"/>
<ellipse cx="442.9" cy="84.0" rx="41.4" ry="10.4" fill="#ffffff"/>
<ellipse cx="440.6" cy="84.0" rx="27.6" ry="7.2" fill="#ffffff"/>
<ellipse cx="321.0" cy="84.0" rx="64.4" ry="4.8" fill="#8e8e8e"/>
</g>
<g filter="url(#b1)">
<rect x="67.0" y="98.0" width="13.2" height="46.0" fill="#222222"/>
<rect x="81.3" y="102.0" width="10.3" height="36.0" fill="#565656"/>
<rect x="95.7" y="98.0" width="13.2" height="48.0" fill="#222222"/>
<rect x="110.0" y="102.0" width="10.3" height="40.0" fill="#505050"/>
<rect x="124.3" y="98.0" width="13.2" height="50.0" fill="#222222"/>
<rect x="138.7" y="102.0" width="10.3" height="44.0" fill="#5e5e5e"/>
<rect x="153.0" y="98.0" width="13.2" height="47.0" fill="#222222"/>
<rect x="167.3" y="102.0" width="10.3" height="38.0" fill="#6a6a6a"/>
<rect x="181.7" y="98.0" width="13.2" height="49.0" fill="#222222"/>
<rect x="196.0" y="102.0" width="10.3" height="42.0" fill="#747474"/>
<rect x="210.3" y="98.0" width="13.2" height="46.0" fill="#222222"/>
<rect x="224.7" y="102.0" width="10.3" height="36.0" fill="#565656"/>
<rect x="239.0" y="98.0" width="13.2" height="48.0" fill="#222222"/>
<rect x="253.3" y="102.0" width="10.3" height="40.0" fill="#505050"/>
<rect x="267.7" y="98.0" width="13.2" height="50.0" fill="#222222"/>
<rect x="282.0" y="102.0" width="10.3" height="44.0" fill="#5e5e5e"/>
<rect x="296.3" y="98.0" width="13.2" height="47.0" fill="#222222"/>
<rect x="310.7" y="102.0" width="10.3" height="38.0" fill="#6a6a6a"/>
<rect x="325.0" y="98.0" width="13.2" height="49.0" fill="#222222"/>
<rect x="339.3" y="102.0" width="10.3" height="42.0" fill="#747474"/>
<rect x="353.7" y="98.0" width="13.2" height="46.0" fill="#222222"/>
<rect x="368.0" y="102.0" width="10.3" height="36.0" fill="#565656"/>
<rect x="382.3" y="98.0" width="13.2" height="48.0" fill="#222222"/>
<rect x="396.7" y="102.0" width="10.3" height="40.0" fill="#505050"/>
<rect x="411.0" y="98.0" width="13.2" height="50.0" fill="#222222"/>
<rect x="425.3" y="102.0" width="10.3" height="44.0" fill="#5e5e5e"/>
<rect x="439.7" y="98.0" width="13.2" height="47.0" fill="#222222"/>
<rect x="454.0" y="102.0" width="10.3" height="38.0" fill="#6a6a6a"/>
<rect x="468.3" y="98.0" width="13.2" height="49.0" fill="#222222"/>
<rect x="482.7" y="102.0" width="10.3" height="42.0" fill="#747474"/>
<rect x="445" y="100" width="37" height="68" rx="6" fill="#1c1c1c"/>
<rect x="465.4" y="108" width="8.1" height="48" fill="#4a4a4a"/>
</g>
<rect x="180" y="432" width="130" height="36" fill="none" stroke="#565656" stroke-width="2.4" filter="url(#bt)"/>
<g filter="url(#bt)" fill="none" stroke-linecap="round">
<path d="M75 290Q73.2 337.5 72.0 380.0" stroke="#c2c2c2" stroke-width="6.8"/>
<path d="M72.0 380.0Q70.8 422.5 70 460" stroke="#aaaaaa" stroke-width="5.0"/>
<path d="M165 285Q151.8 315.8 148.0 360.0" stroke="#c2c2c2" stroke-width="6.8"/>
<path d="M148.0 360.0Q144.2 404.2 150 462" stroke="#aaaaaa" stroke-width="5.0"/>
<path d="M303 300Q302.0 354.5 308.0 400.0" stroke="#c2c2c2" stroke-width="6.8"/>
<path d="M308.0 400.0Q314.0 445.5 327 482" stroke="#aaaaaa" stroke-width="5.0"/>
<path d="M400 290Q418.0 332.0 426.0 375.0" stroke="#c2c2c2" stroke-width="6.8"/>
<path d="M426.0 375.0Q434.0 418.0 432 462" stroke="#aaaaaa" stroke-width="5.0"/>
</g>
<g filter="url(#mf)">
<use href="#mouse" transform="translate(95 134) rotate(0) scale(1.013 1.053)"/>
<use href="#mouse" transform="translate(185 134) rotate(0) scale(1.013 1.053)"/>
<use href="#mouse" transform="translate(290 134) rotate(0) scale(1.013 1.107)"/>
<use href="#mouse" transform="translate(385 134) rotate(0) scale(1.013 1.053)"/>
</g>
<rect x="45" y="20" width="460" height="80" filter="url(#grain)" opacity="0.11"/>
<rect x="11.6" y="11.6" width="496.9" height="488.2" filter="url(#grain)" opacity="0.02"/>
</g></g>
<clipPath id="clip128_180"><rect x="128.0" y="180.0" width="85.4" height="84.5"/></clipPath>
<rect x="128.0" y="180.0" width="85.4" height="84.5" fill="#262626"/>
<g clip-path="url(#clip128_180)">
<g transform="translate(126 178) scale(0.17308)">
<rect x="19.6" y="19.6" width="477.4" height="472.2" fill="url(#bgg)" filter="url(#b1)"/>
<rect x="19.6" y="19.6" width="477.4" height="134.4" fill="#333333" filter="url(#b1)"/>
<rect x="25.6" y="170.0" width="465.4" height="281.8" fill="#3d3d3d" filter="url(#b3)"/>
<rect x="19.6" y="461.8" width="477.4" height="30" fill="#434343" filter="url(#b1)"/>
<g filter="url(#b1)">
<rect x="25" y="20" width="470" height="80" fill="url(#barg)"/>
</g>
<ellipse cx="260.0" cy="53.6" rx="141.0" ry="17.6" fill="#8c8c8c" opacity="0.75" filter="url(#b3)"/>
<g filter="url(#b2)">
<ellipse cx="151.9" cy="84.0" rx="98.7" ry="6.4" fill="#b0b0b0"/>
<ellipse cx="119.0" cy="84.0" rx="61.1" ry="6.0" fill="#dadada"/>
<ellipse cx="90.8" cy="84.0" rx="28.2" ry="5.6" fill="#f2f2f2"/>
<ellipse cx="431.6" cy="84.0" rx="42.3" ry="10.4" fill="#ffffff"/>
<ellipse cx="429.2" cy="84.0" rx="28.2" ry="7.2" fill="#ffffff"/>
<ellipse cx="307.0" cy="84.0" rx="65.8" ry="4.8" fill="#8e8e8e"/>
</g>
<g filter="url(#b1)">
<rect x="47.0" y="98.0" width="13.5" height="46.0" fill="#222222"/>
<rect x="61.7" y="102.0" width="10.6" height="36.0" fill="#565656"/>
<rect x="76.3" y="98.0" width="13.5" height="48.0" fill="#222222"/>
<rect x="91.0" y="102.0" width="10.6" height="40.0" fill="#505050"/>
<rect x="105.7" y="98.0" width="13.5" height="50.0" fill="#222222"/>
<rect x="120.3" y="102.0" width="10.6" height="44.0" fill="#5e5e5e"/>
<rect x="135.0" y="98.0" width="13.5" height="47.0" fill="#222222"/>
<rect x="149.7" y="102.0" width="10.6" height="38.0" fill="#6a6a6a"/>
<rect x="164.3" y="98.0" width="13.5" height="49.0" fill="#222222"/>
<rect x="179.0" y="102.0" width="10.6" height="42.0" fill="#747474"/>
<rect x="193.7" y="98.0" width="13.5" height="46.0" fill="#222222"/>
<rect x="208.3" y="102.0" width="10.6" height="36.0" fill="#565656"/>
<rect x="223.0" y="98.0" width="13.5" height="48.0" fill="#222222"/>
<rect x="237.7" y="102.0" width="10.6" height="40.0" fill="#505050"/>
<rect x="252.3" y="98.0" width="13.5" height="50.0" fill="#222222"/>
<rect x="267.0" y="102.0" width="10.6" height="44.0" fill="#5e5e5e"/>
<rect x="281.7" y="98.0" width="13.5" height="47.0" fill="#222222"/>
<rect x="296.3" y="102.0" width="10.6" height="38.0" fill="#6a6a6a"/>
<rect x="311.0" y="98.0" width="13.5" height="49.0" fill="#222222"/>
<rect x="325.7" y="102.0" width="10.6" height="42.0" fill="#747474"/>
<rect x="340.3" y="98.0" width="13.5" height="46.0" fill="#222222"/>
<rect x="355.0" y="102.0" width="10.6" height="36.0" fill="#565656"/>
<rect x="369.7" y="98.0" width="13.5" height="48.0" fill="#222222"/>
<rect x="384.3" y="102.0" width="10.6" height="40.0" fill="#505050"/>
<rect x="399.0" y="98.0" width="13.5" height="50.0" fill="#222222"/>
<rect x="413.7" y="102.0" width="10.6" height="44.0" fill="#5e5e5e"/>
<rect x="428.3" y="98.0" width="13.5" height="47.0" fill="#222222"/>
<rect x="443.0" y="102.0" width="10.6" height="38.0" fill="#6a6a6a"/>
<rect x="457.7" y="98.0" width="13.5" height="49.0" fill="#222222"/>
<rect x="472.3" y="102.0" width="10.6" height="42.0" fill="#747474"/>
</g>
<rect x="175" y="432" width="155" height="34" fill="none" stroke="#565656" stroke-width="2.4" filter="url(#bt)"/>
<g filter="url(#bt)" fill="none" stroke-linecap="round">
<path d="M90 305Q100.0 340.8 110.0 380.0" stroke="#c2c2c2" stroke-width="6.8"/>
<path d="M110.0 380.0Q120.0 419.2 130 462" stroke="#aaaaaa" stroke-width="5.0"/>
<path d="M185 305Q213.5 343.8 216.0 385.0" stroke="#c2c2c2" stroke-width="6.8"/>
<path d="M216.0 385.0Q218.5 426.2 195 470" stroke="#aaaaaa" stroke-width="5.0"/>
<path d="M272 305Q267.5 355.8 262.0 400.0" stroke="#c2c2c2" stroke-width="6.8"/>
<path d="M262.0 400.0Q256.5 444.2 250 482" stroke="#aaaaaa" stroke-width="5.0"/>
<path d="M365 305Q395.2 345.8 384.0 390.0" stroke="#c2c2c2" stroke-width="6.8"/>
<path d="M384.0 390.0Q372.8 434.2 320 482" stroke="#aaaaaa" stroke-width="5.0"/>
<path d="M445 290Q448.8 335.0 455.0 380.0" stroke="#c2c2c2" stroke-width="6.8"/>
<path d="M455.0 380.0Q461.2 425.0 470 470" stroke="#aaaaaa" stroke-width="5.0"/>
</g>
<g filter="url(#mf)">
<use href="#mouse" transform="translate(85 134) rotate(0) scale(0.961 1.107)"/>
<use href="#mouse" transform="translate(178 134) rotate(0) scale(0.961 1.107)"/>
<use href="#mouse" transform="translate(268 134) rotate(0) scale(0.961 1.107)"/>
<use href="#mouse" transform="translate(358 134) rotate(0) scale(0.961 1.107)"/>
<use href="#mouse" transform="translate(448 134) rotate(0) scale(0.961 1.053)"/>
</g>
<rect x="25" y="20" width="470" height="80" filter="url(#grain)" opacity="0.11"/>
<rect x="11.6" y="11.6" width="493.4" height="488.2" filter="url(#grain)" opacity="0.02"/>
</g></g>
<clipPath id="clip219_180"><rect x="219.3" y="180.0" width="85.3" height="84.5"/></clipPath>
<rect x="219.3" y="180.0" width="85.3" height="84.5" fill="#262626"/>
<g clip-path="url(#clip219_180)">
<g transform="translate(217 178) scale(0.17308)">
<rect x="21.3" y="19.6" width="476.8" height="472.2" fill="url(#bgg)" filter="url(#b1)"/>
<rect x="21.3" y="19.6" width="476.8" height="134.4" fill="#333333" filter="url(#b1)"/>
<rect x="27.3" y="170.0" width="464.8" height="281.8" fill="#3d3d3d" filter="url(#b3)"/>
<rect x="21.3" y="461.8" width="476.8" height="30" fill="#434343" filter="url(#b1)"/>
<g filter="url(#b1)">
<rect x="25" y="20" width="470" height="80" fill="url(#barg)"/>
</g>
<ellipse cx="260.0" cy="53.6" rx="141.0" ry="17.6" fill="#8c8c8c" opacity="0.75" filter="url(#b3)"/>
<g filter="url(#b2)">
<ellipse cx="151.9" cy="84.0" rx="98.7" ry="6.4" fill="#b0b0b0"/>
<ellipse cx="119.0" cy="84.0" rx="61.1" ry="6.0" fill="#dadada"/>
<ellipse cx="90.8" cy="84.0" rx="28.2" ry="5.6" fill="#f2f2f2"/>
<ellipse cx="431.6" cy="84.0" rx="42.3" ry="10.4" fill="#ffffff"/>
<ellipse cx="429.2" cy="84.0" rx="28.2" ry="7.2" fill="#ffffff"/>
<ellipse cx="307.0" cy="84.0" rx="65.8" ry="4.8" fill="#8e8e8e"/>
</g>
<g filter="url(#b1)">
<rect x="47.0" y="98.0" width="13.5" height="46.0" fill="#222222"/>
<rect x="61.7" y="102.0" width="10.6" height="36.0" fill="#565656"/>
<rect x="76.3" y="98.0" width="13.5" height="48.0" fill="#222222"/>
<rect x="91.0" y="102.0" width="10.6" height="40.0" fill="#505050"/>
<rect x="105.7" y="98.0" width="13.5" height="50.0" fill="#222222"/>
<rect x="120.3" y="102.0" width="10.6" height="44.0" fill="#5e5e5e"/>
<rect x="135.0" y="98.0" width="13.5" height="47.0" fill="#222222"/>
<rect x="149.7" y="102.0" width="10.6" height="38.0" fill="#6a6a6a"/>
<rect x="164.3" y="98.0" width="13.5" height="49.0" fill="#222222"/>
<rect x="179.0" y="102.0" width="10.6" height="42.0" fill="#747474"/>
<rect x="193.7" y="98.0" width="13.5" height="46.0" fill="#222222"/>
<rect x="208.3" y="102.0" width="10.6" height="36.0" fill="#565656"/>
<rect x="223.0" y="98.0" width="13.5" height="48.0" fill="#222222"/>
<rect x="237.7" y="102.0" width="10.6" height="40.0" fill="#505050"/>
<rect x="252.3" y="98.0" width="13.5" height="50.0" fill="#222222"/>
<rect x="267.0" y="102.0" width="10.6" height="44.0" fill="#5e5e5e"/>
<rect x="281.7" y="98.0" width="13.5" height="47.0" fill="#222222"/>
<rect x="296.3" y="102.0" width="10.6" height="38.0" fill="#6a6a6a"/>
<rect x="311.0" y="98.0" width="13.5" height="49.0" fill="#222222"/>
<rect x="325.7" y="102.0" width="10.6" height="42.0" fill="#747474"/>
<rect x="340.3" y="98.0" width="13.5" height="46.0" fill="#222222"/>
<rect x="355.0" y="102.0" width="10.6" height="36.0" fill="#565656"/>
<rect x="369.7" y="98.0" width="13.5" height="48.0" fill="#222222"/>
<rect x="384.3" y="102.0" width="10.6" height="40.0" fill="#505050"/>
<rect x="399.0" y="98.0" width="13.5" height="50.0" fill="#222222"/>
<rect x="413.7" y="102.0" width="10.6" height="44.0" fill="#5e5e5e"/>
<rect x="428.3" y="98.0" width="13.5" height="47.0" fill="#222222"/>
<rect x="443.0" y="102.0" width="10.6" height="38.0" fill="#6a6a6a"/>
<rect x="457.7" y="98.0" width="13.5" height="49.0" fill="#222222"/>
<rect x="472.3" y="102.0" width="10.6" height="42.0" fill="#747474"/>
</g>
<rect x="180" y="440" width="140" height="30" fill="none" stroke="#565656" stroke-width="2.4" filter="url(#bt)"/>
<g filter="url(#bt)" fill="none" stroke-linecap="round">
<path d="M120 290Q116.0 345.0 116.0 390.0" stroke="#c2c2c2" stroke-width="6.8"/>
<path d="M116.0 390.0Q116.0 435.0 120 470" stroke="#aaaaaa" stroke-width="5.0"/>
<path d="M185 318Q140.5 348.0 148.0 385.0" stroke="#c2c2c2" stroke-width="6.8"/>
<path d="M148.0 385.0Q155.5 422.0 215 466" stroke="#aaaaaa" stroke-width="5.0"/>
<path d="M250 300Q261.0 342.5 266.0 385.0" stroke="#c2c2c2" stroke-width="6.8"/>
<path d="M266.0 385.0Q271.0 427.5 270 470" stroke="#aaaaaa" stroke-width="5.0"/>
<path d="M310 290Q324.5 340.0 336.0 385.0" stroke="#c2c2c2" stroke-width="6.8"/>
<path d="M336.0 385.0Q347.5 430.0 356 470" stroke="#aaaaaa" stroke-width="5.0"/>
<path d="M415 270Q439.8 315.0 441.0 360.0" stroke="#c2c2c2" stroke-width="6.8"/>
<path d="M441.0 360.0Q442.2 405.0 420 450" stroke="#aaaaaa" stroke-width="5.0"/>
</g>
<g filter="url(#mf)">
<use href="#mouseD" transform="translate(92 134) rotate(0) scale(1.013 1.007)"/>
<use href="#mouseD" transform="translate(185 162) rotate(0) scale(1.013 0.953)"/>
<use href="#mouseD" transform="translate(252 144) rotate(0) scale(0.961 0.940)"/>
<use href="#mouseD" transform="translate(338 154) rotate(0) scale(1.013 0.920)"/>
<use href="#mouseD" transform="translate(430 144) rotate(0) scale(0.961 0.853)"/>
</g>
<rect x="25" y="20" width="470" height="80" filter="url(#grain)" opacity="0.11"/>
<rect x="13.3" y="11.6" width="492.8" height="488.2" filter="url(#grain)" opacity="0.02"/>
</g></g>
<clipPath id="clip310_180"><rect x="310.6" y="180.0" width="86.2" height="84.5"/></clipPath>
<rect x="310.6" y="180.0" width="86.2" height="84.5" fill="#262626"/>
<g clip-path="url(#clip310_180)">
<g transform="translate(308 178) scale(0.17308)">
<rect x="23.0" y="19.6" width="482.0" height="472.2" fill="url(#bgg)" filter="url(#b1)"/>
<rect x="23.0" y="19.6" width="482.0" height="129.4" fill="#333333" filter="url(#b1)"/>
<rect x="29.0" y="165.0" width="470.0" height="286.8" fill="#3d3d3d" filter="url(#b3)"/>
<rect x="23.0" y="461.8" width="482.0" height="30" fill="#434343" filter="url(#b1)"/>
<g filter="url(#b1)">
<rect x="30" y="15" width="470" height="80" fill="url(#barg)"/>
</g>
<ellipse cx="265.0" cy="48.6" rx="141.0" ry="17.6" fill="#8c8c8c" opacity="0.75" filter="url(#b3)"/>
<g filter="url(#b2)">
<ellipse cx="156.9" cy="79.0" rx="98.7" ry="6.4" fill="#b0b0b0"/>
<ellipse cx="124.0" cy="79.0" rx="61.1" ry="6.0" fill="#dadada"/>
<ellipse cx="95.8" cy="79.0" rx="28.2" ry="5.6" fill="#f2f2f2"/>
<ellipse cx="436.6" cy="79.0" rx="42.3" ry="10.4" fill="#ffffff"/>
<ellipse cx="434.2" cy="79.0" rx="28.2" ry="7.2" fill="#ffffff"/>
<ellipse cx="312.0" cy="79.0" rx="65.8" ry="4.8" fill="#8e8e8e"/>
</g>
<g filter="url(#b1)">
<rect x="52.0" y="93.0" width="13.5" height="46.0" fill="#222222"/>
<rect x="66.7" y="97.0" width="10.6" height="36.0" fill="#565656"/>
<rect x="81.3" y="93.0" width="13.5" height="48.0" fill="#222222"/>
<rect x="96.0" y="97.0" width="10.6" height="40.0" fill="#505050"/>
<rect x="110.7" y="93.0" width="13.5" height="50.0" fill="#222222"/>
<rect x="125.3" y="97.0" width="10.6" height="44.0" fill="#5e5e5e"/>
<rect x="140.0" y="93.0" width="13.5" height="47.0" fill="#222222"/>
<rect x="154.7" y="97.0" width="10.6" height="38.0" fill="#6a6a6a"/>
<rect x="169.3" y="93.0" width="13.5" height="49.0" fill="#222222"/>
<rect x="184.0" y="97.0" width="10.6" height="42.0" fill="#747474"/>
<rect x="198.7" y="93.0" width="13.5" height="46.0" fill="#222222"/>
<rect x="213.3" y="97.0" width="10.6" height="36.0" fill="#565656"/>
<rect x="228.0" y="93.0" width="13.5" height="48.0" fill="#222222"/>
<rect x="242.7" y="97.0" width="10.6" height="40.0" fill="#505050"/>
<rect x="257.3" y="93.0" width="13.5" height="50.0" fill="#222222"/>
<rect x="272.0" y="97.0" width="10.6" height="44.0" fill="#5e5e5e"/>
<rect x="286.7" y="93.0" width="13.5" height="47.0" fill="#222222"/>
<rect x="301.3" y="97.0" width="10.6" height="38.0" fill="#6a6a6a"/>
<rect x="316.0" y="93.0" width="13.5" height="49.0" fill="#222222"/>
<rect x="330.7" y="97.0" width="10.6" height="42.0" fill="#747474"/>
<rect x="345.3" y="93.0" width="13.5" height="46.0" fill="#222222"/>
<rect x="360.0" y="97.0" width="10.6" height="36.0" fill="#565656"/>
<rect x="374.7" y="93.0" width="13.5" height="48.0" fill="#222222"/>
<rect x="389.3" y="97.0" width="10.6" height="40.0" fill="#505050"/>
<rect x="404.0" y="93.0" width="13.5" height="50.0" fill="#222222"/>
<rect x="418.7" y="97.0" width="10.6" height="44.0" fill="#5e5e5e"/>
<rect x="433.3" y="93.0" width="13.5" height="47.0" fill="#222222"/>
<rect x="448.0" y="97.0" width="10.6" height="38.0" fill="#6a6a6a"/>
<rect x="462.7" y="93.0" width="13.5" height="49.0" fill="#222222"/>
<rect x="477.3" y="97.0" width="10.6" height="42.0" fill="#747474"/>
</g>
<rect x="185" y="430" width="140" height="35" fill="none" stroke="#565656" stroke-width="2.4" filter="url(#bt)"/>
<g filter="url(#bt)" fill="none" stroke-linecap="round">
<path d="M50 280Q69.5 324.5 72.0 370.0" stroke="#c2c2c2" stroke-width="6.8"/>
<path d="M72.0 370.0Q74.5 415.5 60 462" stroke="#aaaaaa" stroke-width="5.0"/>
<path d="M185 290Q175.2 352.0 174.0 400.0" stroke="#c2c2c2" stroke-width="6.8"/>
<path d="M174.0 400.0Q172.8 448.0 180 482" stroke="#aaaaaa" stroke-width="5.0"/>
<path d="M245 295Q270.8 328.2 292.0 372.0" stroke="#c2c2c2" stroke-width="6.8"/>
<path d="M292.0 372.0Q313.2 415.8 330 470" stroke="#aaaaaa" stroke-width="5.0"/>
<path d="M370 290Q362.8 336.0 364.0 380.0" stroke="#c2c2c2" stroke-width="6.8"/>
<path d="M364.0 380.0Q365.2 424.0 375 466" stroke="#aaaaaa" stroke-width="5.0"/>
<path d="M430 265Q444.8 311.2 446.0 350.0" stroke="#c2c2c2" stroke-width="6.8"/>
<path d="M446.0 350.0Q447.2 388.8 435 420" stroke="#aaaaaa" stroke-width="5.0"/>
</g>
<g filter="url(#mf)">
<use href="#mouseD" transform="translate(75 132) rotate(0) scale(1.013 1.000)"/>
<use href="#mouseD" transform="translate(180 134) rotate(0) scale(0.909 1.053)"/>
<use href="#mouseD" transform="translate(265 134) rotate(0) scale(1.013 1.007)"/>
<use href="#mouseD" transform="translate(365 134) rotate(0) scale(1.013 0.940)"/>
<use href="#mouseD" transform="translate(440 114) rotate(0) scale(0.779 0.987)"/>
</g>
<rect x="30" y="15" width="470" height="80" filter="url(#grain)" opacity="0.11"/>
<rect x="15.0" y="11.6" width="498.0" height="488.2" filter="url(#grain)" opacity="0.02"/>
</g></g>
<clipPath id="clip36_275"><rect x="36.0" y="275.6" width="86.0" height="85.2"/></clipPath>
<rect x="36.0" y="275.6" width="86.0" height="85.2" fill="#262626"/>
<g clip-path="url(#clip36_275)">
<g transform="translate(34 273) scale(0.17308)">
<rect x="19.6" y="23.0" width="480.9" height="476.3" fill="url(#bgg)" filter="url(#b1)"/>
<rect x="19.6" y="23.0" width="480.9" height="141.0" fill="#333333" filter="url(#b1)"/>
<rect x="25.6" y="180.0" width="468.9" height="279.3" fill="#3d3d3d" filter="url(#b3)"/>
<rect x="19.6" y="469.3" width="480.9" height="30" fill="#434343" filter="url(#b1)"/>
<g filter="url(#b1)">
<rect x="25" y="25" width="470" height="85" fill="url(#barg)"/>
</g>
<ellipse cx="260.0" cy="60.7" rx="141.0" ry="18.7" fill="#8c8c8c" opacity="0.75" filter="url(#b3)"/>
<g filter="url(#b2)">
<ellipse cx="151.9" cy="93.0" rx="98.7" ry="6.8" fill="#b0b0b0"/>
<ellipse cx="119.0" cy="93.0" rx="61.1" ry="6.4" fill="#dadada"/>
<ellipse cx="90.8" cy="93.0" rx="28.2" ry="6.0" fill="#f2f2f2"/>
<ellipse cx="431.6" cy="93.0" rx="42.3" ry="11.1" fill="#ffffff"/>
<ellipse cx="429.2" cy="93.0" rx="28.2" ry="7.6" fill="#ffffff"/>
<ellipse cx="307.0" cy="93.0" rx="65.8" ry="5.1" fill="#8e8e8e"/>
</g>
<g filter="url(#b1)">
<rect x="47.0" y="108.0" width="13.5" height="46.0" fill="#222222"/>
<rect x="61.7" y="112.0" width="10.6" height="36.0" fill="#565656"/>
<rect x="76.3" y="108.0" width="13.5" height="48.0" fill="#222222"/>
<rect x="91.0" y="112.0" width="10.6" height="40.0" fill="#505050"/>
<rect x="105.7" y="108.0" width="13.5" height="50.0" fill="#222222"/>
<rect x="120.3" y="112.0" width="10.6" height="44.0" fill="#5e5e5e"/>
<rect x="135.0" y="108.0" width="13.5" height="47.0" fill="#222222"/>
<rect x="149.7" y="112.0" width="10.6" height="38.0" fill="#6a6a6a"/>
<rect x="164.3" y="108.0" width="13.5" height="49.0" fill="#222222"/>
<rect x="179.0" y="112.0" width="10.6" height="42.0" fill="#747474"/>
<rect x="193.7" y="108.0" width="13.5" height="46.0" fill="#222222"/>
<rect x="208.3" y="112.0" width="10.6" height="36.0" fill="#565656"/>
<rect x="223.0" y="108.0" width="13.5" height="48.0" fill="#222222"/>
<rect x="237.7" y="112.0" width="10.6" height="40.0" fill="#505050"/>
<rect x="252.3" y="108.0" width="13.5" height="50.0" fill="#222222"/>
<rect x="267.0" y="112.0" width="10.6" height="44.0" fill="#5e5e5e"/>
<rect x="281.7" y="108.0" width="13.5" height="47.0" fill="#222222"/>
<rect x="296.3" y="112.0" width="10.6" height="38.0" fill="#6a6a6a"/>
<rect x="311.0" y="108.0" width="13.5" height="49.0" fill="#222222"/>
<rect x="325.7" y="112.0" width="10.6" height="42.0" fill="#747474"/>
<rect x="340.3" y="108.0" width="13.5" height="46.0" fill="#222222"/>
<rect x="355.0" y="112.0" width="10.6" height="36.0" fill="#565656"/>
<rect x="369.7" y="108.0" width="13.5" height="48.0" fill="#222222"/>
<rect x="384.3" y="112.0" width="10.6" height="40.0" fill="#505050"/>
<rect x="399.0" y="108.0" width="13.5" height="50.0" fill="#222222"/>
<rect x="413.7" y="112.0" width="10.6" height="44.0" fill="#5e5e5e"/>
<rect x="428.3" y="108.0" width="13.5" height="47.0" fill="#222222"/>
<rect x="443.0" y="112.0" width="10.6" height="38.0" fill="#6a6a6a"/>
<rect x="457.7" y="108.0" width="13.5" height="49.0" fill="#222222"/>
<rect x="472.3" y="112.0" width="10.6" height="42.0" fill="#747474"/>
<rect x="420" y="110" width="40" height="80" rx="6" fill="#1c1c1c"/>
<rect x="442.0" y="118" width="8.8" height="60" fill="#4a4a4a"/>
</g>
<g filter="url(#bt)" fill="none" stroke-linecap="round">
<path d="M90 315Q96.5 353.8 104.0 400.0" stroke="#c2c2c2" stroke-width="6.8"/>
<path d="M104.0 400.0Q111.5 446.2 120 500" stroke="#aaaaaa" stroke-width="5.0"/>
<path d="M178 315Q176.5 353.8 175.0 400.0" stroke="#c2c2c2" stroke-width="6.8"/>
<path d="M175.0 400.0Q173.5 446.2 172 500" stroke="#aaaaaa" stroke-width="5.0"/>
<path d="M270 315Q271.2 353.8 275.0 400.0" stroke="#c2c2c2" stroke-width="6.8"/>
<path d="M275.0 400.0Q278.8 446.2 285 500" stroke="#aaaaaa" stroke-width="5.0"/>
<path d="M345 300Q372.2 339.5 376.0 385.0" stroke="#c2c2c2" stroke-width="6.8"/>
<path d="M376.0 385.0Q379.8 430.5 360 482" stroke="#aaaaaa" stroke-width="5.0"/>
</g>
<g filter="url(#mf)">
<use href="#mouse" transform="translate(85 144) rotate(0) scale(0.987 1.120)"/>
<use href="#mouse" transform="translate(175 144) rotate(0) scale(0.987 1.120)"/>
<use href="#mouse" transform="translate(268 144) rotate(0) scale(0.987 1.120)"/>
<use href="#mouse" transform="translate(345 144) rotate(0) scale(0.987 1.040)"/>
</g>
<rect x="25" y="25" width="470" height="85" filter="url(#grain)" opacity="0.11"/>
<rect x="11.6" y="15.0" width="496.9" height="492.3" filter="url(#grain)" opacity="0.02"/>
</g></g>
<path d="M36.25 354.8V275.85H121.75V354.8" fill="none" stroke="#a04848" stroke-width="0.55" opacity="0.9"/>
<clipPath id="clip128_275"><rect x="128.0" y="275.6" width="85.4" height="85.2"/></clipPath>
<rect x="128.0" y="275.6" width="85.4" height="85.2" fill="#262626"/>
<g clip-path="url(#clip128_275)">
<g transform="translate(126 273) scale(0.17308)">
<rect x="19.6" y="23.0" width="477.4" height="476.3" fill="url(#bgg)" filter="url(#b1)"/>
<rect x="19.6" y="23.0" width="477.4" height="139.0" fill="#333333" filter="url(#b1)"/>
<rect x="25.6" y="178.0" width="465.4" height="281.3" fill="#3d3d3d" filter="url(#b3)"/>
<rect x="19.6" y="469.3" width="477.4" height="30" fill="#434343" filter="url(#b1)"/>
<g filter="url(#b1)">
<rect x="20" y="25" width="475" height="80" fill="url(#barg)"/>
</g>
<ellipse cx="257.5" cy="58.6" rx="142.5" ry="17.6" fill="#8c8c8c" opacity="0.75" filter="url(#b3)"/>
<g filter="url(#b2)">
<ellipse cx="148.2" cy="89.0" rx="99.8" ry="6.4" fill="#b0b0b0"/>
<ellipse cx="115.0" cy="89.0" rx="61.8" ry="6.0" fill="#dadada"/>
<ellipse cx="86.5" cy="89.0" rx="28.5" ry="5.6" fill="#f2f2f2"/>
<ellipse cx="430.9" cy="89.0" rx="42.8" ry="10.4" fill="#ffffff"/>
<ellipse cx="428.5" cy="89.0" rx="28.5" ry="7.2" fill="#ffffff"/>
<ellipse cx="305.0" cy="89.0" rx="66.5" ry="4.8" fill="#8e8e8e"/>
</g>
<g filter="url(#b1)">
<rect x="42.0" y="103.0" width="13.6" height="49.0" fill="#222222"/>
<rect x="56.8" y="107.0" width="10.7" height="39.0" fill="#565656"/>
<rect x="71.7" y="103.0" width="13.6" height="51.0" fill="#222222"/>
<rect x="86.5" y="107.0" width="10.7" height="43.0" fill="#505050"/>
<rect x="101.3" y="103.0" width="13.6" height="53.0" fill="#222222"/>
<rect x="116.2" y="107.0" width="10.7" height="47.0" fill="#5e5e5e"/>
<rect x="131.0" y="103.0" width="13.6" height="50.0" fill="#222222"/>
<rect x="145.8" y="107.0" width="10.7" height="41.0" fill="#6a6a6a"/>
<rect x="160.7" y="103.0" width="13.6" height="52.0" fill="#222222"/>
<rect x="175.5" y="107.0" width="10.7" height="45.0" fill="#747474"/>
<rect x="190.3" y="103.0" width="13.6" height="49.0" fill="#222222"/>
<rect x="205.2" y="107.0" width="10.7" height="39.0" fill="#565656"/>
<rect x="220.0" y="103.0" width="13.6" height="51.0" fill="#222222"/>
<rect x="234.8" y="107.0" width="10.7" height="43.0" fill="#505050"/>
<rect x="249.7" y="103.0" width="13.6" height="53.0" fill="#222222"/>
<rect x="264.5" y="107.0" width="10.7" height="47.0" fill="#5e5e5e"/>
<rect x="279.3" y="103.0" width="13.6" height="50.0" fill="#222222"/>
<rect x="294.2" y="107.0" width="10.7" height="41.0" fill="#6a6a6a"/>
<rect x="309.0" y="103.0" width="13.6" height="52.0" fill="#222222"/>
<rect x="323.8" y="107.0" width="10.7" height="45.0" fill="#747474"/>
<rect x="338.7" y="103.0" width="13.6" height="49.0" fill="#222222"/>
<rect x="353.5" y="107.0" width="10.7" height="39.0" fill="#565656"/>
<rect x="368.3" y="103.0" width="13.6" height="51.0" fill="#222222"/>
<rect x="383.2" y="107.0" width="10.7" height="43.0" fill="#505050"/>
<rect x="398.0" y="103.0" width="13.6" height="53.0" fill="#222222"/>
<rect x="412.8" y="107.0" width="10.7" height="47.0" fill="#5e5e5e"/>
<rect x="427.7" y="103.0" width="13.6" height="50.0" fill="#222222"/>
<rect x="442.5" y="107.0" width="10.7" height="41.0" fill="#6a6a6a"/>
<rect x="457.3" y="103.0" width="13.6" height="52.0" fill="#222222"/>
<rect x="472.2" y="107.0" width="10.7" height="45.0" fill="#747474"/>
<rect x="418" y="105" width="37" height="83" rx="6" fill="#1c1c1c"/>
<rect x="438.4" y="113" width="8.1" height="63" fill="#4a4a4a"/>
</g>
<g filter="url(#bt)" fill="none" stroke-linecap="round">
<path d="M95 330Q87.5 359.5 90.0 400.0" stroke="#c2c2c2" stroke-width="6.8"/>
<path d="M90.0 400.0Q92.5 440.5 105 492" stroke="#aaaaaa" stroke-width="5.0"/>
<path d="M185 310Q200.8 357.0 202.0 400.0" stroke="#c2c2c2" stroke-width="6.8"/>
<path d="M202.0 400.0Q203.2 443.0 190 482" stroke="#aaaaaa" stroke-width="5.0"/>
<path d="M262 310Q248.2 353.5 244.0 400.0" stroke="#c2c2c2" stroke-width="6.8"/>
<path d="M244.0 400.0Q239.8 446.5 245 496" stroke="#aaaaaa" stroke-width="5.0"/>
<path d="M350 300Q357.2 352.0 356.0 400.0" stroke="#c2c2c2" stroke-width="6.8"/>
<path d="M356.0 400.0Q354.8 448.0 345 492" stroke="#aaaaaa" stroke-width="5.0"/>
</g>
<g filter="url(#mf)">
<use href="#mouse" transform="translate(90 139) rotate(0) scale(0.987 1.207)"/>
<use href="#mouse" transform="translate(180 139) rotate(0) scale(0.987 1.107)"/>
<use href="#mouse" transform="translate(265 139) rotate(0) scale(0.987 1.107)"/>
<use href="#mouse" transform="translate(350 139) rotate(0) scale(0.987 1.073)"/>
</g>
<rect x="20" y="25" width="475" height="80" filter="url(#grain)" opacity="0.11"/>
<rect x="11.6" y="15.0" width="493.4" height="492.3" filter="url(#grain)" opacity="0.02"/>
<g filter="url(#bl)">
<ellipse cx="89.0" cy="263.5" rx="43.9" ry="54.3" fill="#5a18e8" transform="rotate(0 89.0 263.5)"/>
<ellipse cx="89.0" cy="264.0" rx="38.7" ry="48.5" fill="#1030ff" transform="rotate(0 89.0 264.0)"/>
<ellipse cx="89.6" cy="262.3" rx="30.0" ry="38.1" fill="#00d8ff" transform="rotate(0 89.6 262.3)"/>
<ellipse cx="86.7" cy="256.5" rx="25.4" ry="32.4" fill="#30ff30" transform="rotate(0 86.7 256.5)"/>
<ellipse cx="92.4" cy="265.8" rx="24.3" ry="24.3" fill="#ffe800" transform="rotate(0 92.4 265.8)"/>
<ellipse cx="89.0" cy="271.6" rx="22.0" ry="17.3" fill="#ff1400" transform="rotate(0 89.0 271.6)"/>
<ellipse cx="102.8" cy="255.4" rx="13.9" ry="12.7" fill="#ff1400" transform="rotate(0 102.8 255.4)"/>
<ellipse cx="76.3" cy="238.0" rx="11.0" ry="10.4" fill="#30ff30" transform="rotate(0 76.3 238.0)"/>
<ellipse cx="180.3" cy="254.2" rx="41.6" ry="57.8" fill="#5a18e8" transform="rotate(0 180.3 254.2)"/>
<ellipse cx="180.3" cy="254.2" rx="36.4" ry="51.4" fill="#1030ff" transform="rotate(0 180.3 254.2)"/>
<ellipse cx="179.1" cy="254.2" rx="27.7" ry="39.3" fill="#00d8ff" transform="rotate(0 179.1 254.2)"/>
<ellipse cx="182.6" cy="257.7" rx="20.8" ry="13.9" fill="#30ff30" transform="rotate(-25 182.6 257.7)"/>
<ellipse cx="179.1" cy="230.0" rx="26.6" ry="17.9" fill="#ffe800" transform="rotate(0 179.1 230.0)"/>
<ellipse cx="179.1" cy="230.0" rx="23.7" ry="14.4" fill="#ff1400" transform="rotate(0 179.1 230.0)"/>
<ellipse cx="168.7" cy="277.3" rx="22.0" ry="16.2" fill="#ffe800" transform="rotate(25 168.7 277.3)"/>
<ellipse cx="167.6" cy="277.3" rx="19.1" ry="12.1" fill="#ff1400" transform="rotate(25 167.6 277.3)"/>
<ellipse cx="195.3" cy="271.6" rx="11.6" ry="9.2" fill="#30ff30" transform="rotate(0 195.3 271.6)"/>
<ellipse cx="184.3" cy="322.4" rx="5.2" ry="13.9" fill="#1030ff" transform="rotate(0 184.3 322.4)"/>
<ellipse cx="264.6" cy="241.5" rx="35.8" ry="43.9" fill="#5a18e8" transform="rotate(0 264.6 241.5)"/>
<ellipse cx="264.6" cy="238.0" rx="28.9" ry="34.7" fill="#1030ff" transform="rotate(0 264.6 238.0)"/>
<ellipse cx="265.2" cy="235.7" rx="24.3" ry="22.0" fill="#00d8ff" transform="rotate(0 265.2 235.7)"/>
<ellipse cx="265.2" cy="234.6" rx="22.5" ry="15.6" fill="#ffe800" transform="rotate(0 265.2 234.6)"/>
<ellipse cx="256.0" cy="234.0" rx="12.1" ry="12.1" fill="#ff1400" transform="rotate(0 256.0 234.0)"/>
<ellipse cx="275.0" cy="234.0" rx="12.1" ry="12.1" fill="#ff1400" transform="rotate(0 275.0 234.0)"/>
<ellipse cx="265.8" cy="234.6" rx="19.1" ry="10.4" fill="#ff1400" transform="rotate(0 265.8 234.6)"/>
<ellipse cx="354.8" cy="235.7" rx="39.3" ry="48.5" fill="#5a18e8" transform="rotate(0 354.8 235.7)"/>
<ellipse cx="354.8" cy="232.3" rx="32.4" ry="39.3" fill="#1030ff" transform="rotate(0 354.8 232.3)"/>
<ellipse cx="356.5" cy="230.5" rx="27.7" ry="27.7" fill="#00d8ff" transform="rotate(0 356.5 230.5)"/>
<ellipse cx="357.1" cy="230.0" rx="26.0" ry="23.1" fill="#ffe800" transform="rotate(0 357.1 230.0)"/>
<ellipse cx="357.6" cy="230.0" rx="23.7" ry="19.6" fill="#ff1400" transform="rotate(0 357.6 230.0)"/>
</g>
</g></g>
<clipPath id="clip219_275"><rect x="219.3" y="275.6" width="85.3" height="85.2"/></clipPath>
<rect x="219.3" y="275.6" width="85.3" height="85.2" fill="#262626"/>
<g clip-path="url(#clip219_275)">
<g transform="translate(217 273) scale(0.17308)">
<rect x="21.3" y="23.0" width="476.8" height="476.3" fill="url(#bgg)" filter="url(#b1)"/>
<rect x="21.3" y="23.0" width="476.8" height="141.0" fill="#333333" filter="url(#b1)"/>
<rect x="27.3" y="180.0" width="464.8" height="279.3" fill="#3d3d3d" filter="url(#b3)"/>
<rect x="21.3" y="469.3" width="476.8" height="30" fill="#434343" filter="url(#b1)"/>
<g filter="url(#b1)">
<rect x="20" y="25" width="475" height="85" fill="url(#barg)"/>
</g>
<ellipse cx="257.5" cy="60.7" rx="142.5" ry="18.7" fill="#8c8c8c" opacity="0.75" filter="url(#b3)"/>
<g filter="url(#b2)">
<ellipse cx="148.2" cy="93.0" rx="99.8" ry="6.8" fill="#b0b0b0"/>
<ellipse cx="115.0" cy="93.0" rx="61.8" ry="6.4" fill="#dadada"/>
<ellipse cx="86.5" cy="93.0" rx="28.5" ry="6.0" fill="#f2f2f2"/>
<ellipse cx="430.9" cy="93.0" rx="42.8" ry="11.1" fill="#ffffff"/>
<ellipse cx="428.5" cy="93.0" rx="28.5" ry="7.6" fill="#ffffff"/>
<ellipse cx="305.0" cy="93.0" rx="66.5" ry="5.1" fill="#8e8e8e"/>
</g>
<g filter="url(#b1)">
<rect x="42.0" y="108.0" width="13.6" height="46.0" fill="#222222"/>
<rect x="56.8" y="112.0" width="10.7" height="36.0" fill="#565656"/>
<rect x="71.7" y="108.0" width="13.6" height="48.0" fill="#222222"/>
<rect x="86.5" y="112.0" width="10.7" height="40.0" fill="#505050"/>
<rect x="101.3" y="108.0" width="13.6" height="50.0" fill="#222222"/>
<rect x="116.2" y="112.0" width="10.7" height="44.0" fill="#5e5e5e"/>
<rect x="131.0" y="108.0" width="13.6" height="47.0" fill="#222222"/>
<rect x="145.8" y="112.0" width="10.7" height="38.0" fill="#6a6a6a"/>
<rect x="160.7" y="108.0" width="13.6" height="49.0" fill="#222222"/>
<rect x="175.5" y="112.0" width="10.7" height="42.0" fill="#747474"/>
<rect x="190.3" y="108.0" width="13.6" height="46.0" fill="#222222"/>
<rect x="205.2" y="112.0" width="10.7" height="36.0" fill="#565656"/>
<rect x="220.0" y="108.0" width="13.6" height="48.0" fill="#222222"/>
<rect x="234.8" y="112.0" width="10.7" height="40.0" fill="#505050"/>
<rect x="249.7" y="108.0" width="13.6" height="50.0" fill="#222222"/>
<rect x="264.5" y="112.0" width="10.7" height="44.0" fill="#5e5e5e"/>
<rect x="279.3" y="108.0" width="13.6" height="47.0" fill="#222222"/>
<rect x="294.2" y="112.0" width="10.7" height="38.0" fill="#6a6a6a"/>
<rect x="309.0" y="108.0" width="13.6" height="49.0" fill="#222222"/>
<rect x="323.8" y="112.0" width="10.7" height="42.0" fill="#747474"/>
<rect x="338.7" y="108.0" width="13.6" height="46.0" fill="#222222"/>
<rect x="353.5" y="112.0" width="10.7" height="36.0" fill="#565656"/>
<rect x="368.3" y="108.0" width="13.6" height="48.0" fill="#222222"/>
<rect x="383.2" y="112.0" width="10.7" height="40.0" fill="#505050"/>
<rect x="398.0" y="108.0" width="13.6" height="50.0" fill="#222222"/>
<rect x="412.8" y="112.0" width="10.7" height="44.0" fill="#5e5e5e"/>
<rect x="427.7" y="108.0" width="13.6" height="47.0" fill="#222222"/>
<rect x="442.5" y="112.0" width="10.7" height="38.0" fill="#6a6a6a"/>
<rect x="457.3" y="108.0" width="13.6" height="49.0" fill="#222222"/>
<rect x="472.2" y="112.0" width="10.7" height="42.0" fill="#747474"/>
<rect x="420" y="110" width="35" height="80" rx="6" fill="#1c1c1c"/>
<rect x="439.2" y="118" width="7.7" height="60" fill="#4a4a4a"/>
</g>
<g filter="url(#bt)" fill="none" stroke-linecap="round">
<path d="M100 310Q122.2 357.0 136.0 400.0" stroke="#c2c2c2" stroke-width="6.8"/>
<path d="M136.0 400.0Q149.8 443.0 155 482" stroke="#aaaaaa" stroke-width="5.0"/>
<path d="M160 310Q169.8 354.5 176.0 400.0" stroke="#c2c2c2" stroke-width="6.8"/>
<path d="M176.0 400.0Q182.2 445.5 185 492" stroke="#aaaaaa" stroke-width="5.0"/>
<path d="M275 310Q278.8 353.5 285.0 400.0" stroke="#c2c2c2" stroke-width="6.8"/>
<path d="M285.0 400.0Q291.2 446.5 300 496" stroke="#aaaaaa" stroke-width="5.0"/>
<path d="M358 305Q360.8 353.2 365.0 400.0" stroke="#c2c2c2" stroke-width="6.8"/>
<path d="M365.0 400.0Q369.2 446.8 375 492" stroke="#aaaaaa" stroke-width="5.0"/>
</g>
<g filter="url(#mf)">
<use href="#mouse" transform="translate(90 139) rotate(0) scale(1.013 1.107)"/>
<use href="#mouse" transform="translate(170 139) rotate(0) scale(1.013 1.107)"/>
<use href="#mouse" transform="translate(270 139) rotate(0) scale(1.013 1.127)"/>
<use href="#mouse" transform="translate(355 139) rotate(0) scale(1.013 1.087)"/>
</g>
<rect x="20" y="25" width="475" height="85" filter="url(#grain)" opacity="0.11"/>
<rect x="13.3" y="15.0" width="492.8" height="492.3" filter="url(#grain)" opacity="0.02"/>
</g></g>
<clipPath id="clip310_275"><rect x="310.6" y="275.6" width="86.2" height="85.2"/></clipPath>
<rect x="310.6" y="275.6" width="86.2" height="85.2" fill="#262626"/>
<g clip-path="url(#clip310_275)">
<g transform="translate(308 273) scale(0.17308)">
<rect x="23.0" y="23.0" width="482.0" height="476.3" fill="url(#bgg)" filter="url(#b1)"/>
<rect x="23.0" y="23.0" width="482.0" height="141.0" fill="#333333" filter="url(#b1)"/>
<rect x="29.0" y="180.0" width="470.0" height="279.3" fill="#3d3d3d" filter="url(#b3)"/>
<rect x="23.0" y="469.3" width="482.0" height="30" fill="#434343" filter="url(#b1)"/>
<g filter="url(#b1)">
<rect x="25" y="25" width="470" height="85" fill="url(#barg)"/>
</g>
<ellipse cx="260.0" cy="60.7" rx="141.0" ry="18.7" fill="#8c8c8c" opacity="0.75" filter="url(#b3)"/>
<g filter="url(#b2)">
<ellipse cx="151.9" cy="93.0" rx="98.7" ry="6.8" fill="#b0b0b0"/>
<ellipse cx="119.0" cy="93.0" rx="61.1" ry="6.4" fill="#dadada"/>
<ellipse cx="90.8" cy="93.0" rx="28.2" ry="6.0" fill="#f2f2f2"/>
<ellipse cx="431.6" cy="93.0" rx="42.3" ry="11.1" fill="#ffffff"/>
<ellipse cx="429.2" cy="93.0" rx="28.2" ry="7.6" fill="#ffffff"/>
<ellipse cx="307.0" cy="93.0" rx="65.8" ry="5.1" fill="#8e8e8e"/>
</g>
<g filter="url(#b1)">
<rect x="47.0" y="108.0" width="13.5" height="46.0" fill="#222222"/>
<rect x="61.7" y="112.0" width="10.6" height="36.0" fill="#565656"/>
<rect x="76.3" y="108.0" width="13.5" height="48.0" fill="#222222"/>
<rect x="91.0" y="112.0" width="10.6" height="40.0" fill="#505050"/>
<rect x="105.7" y="108.0" width="13.5" height="50.0" fill="#222222"/>
<rect x="120.3" y="112.0" width="10.6" height="44.0" fill="#5e5e5e"/>
<rect x="135.0" y="108.0" width="13.5" height="47.0" fill="#222222"/>
<rect x="149.7" y="112.0" width="10.6" height="38.0" fill="#6a6a6a"/>
<rect x="164.3" y="108.0" width="13.5" height="49.0" fill="#222222"/>
<rect x="179.0" y="112.0" width="10.6" height="42.0" fill="#747474"/>
<rect x="193.7" y="108.0" width="13.5" height="46.0" fill="#222222"/>
<rect x="208.3" y="112.0" width="10.6" height="36.0" fill="#565656"/>
<rect x="223.0" y="108.0" width="13.5" height="48.0" fill="#222222"/>
<rect x="237.7" y="112.0" width="10.6" height="40.0" fill="#505050"/>
<rect x="252.3" y="108.0" width="13.5" height="50.0" fill="#222222"/>
<rect x="267.0" y="112.0" width="10.6" height="44.0" fill="#5e5e5e"/>
<rect x="281.7" y="108.0" width="13.5" height="47.0" fill="#222222"/>
<rect x="296.3" y="112.0" width="10.6" height="38.0" fill="#6a6a6a"/>
<rect x="311.0" y="108.0" width="13.5" height="49.0" fill="#222222"/>
<rect x="325.7" y="112.0" width="10.6" height="42.0" fill="#747474"/>
<rect x="340.3" y="108.0" width="13.5" height="46.0" fill="#222222"/>
<rect x="355.0" y="112.0" width="10.6" height="36.0" fill="#565656"/>
<rect x="369.7" y="108.0" width="13.5" height="48.0" fill="#222222"/>
<rect x="384.3" y="112.0" width="10.6" height="40.0" fill="#505050"/>
<rect x="399.0" y="108.0" width="13.5" height="50.0" fill="#222222"/>
<rect x="413.7" y="112.0" width="10.6" height="44.0" fill="#5e5e5e"/>
<rect x="428.3" y="108.0" width="13.5" height="47.0" fill="#222222"/>
<rect x="443.0" y="112.0" width="10.6" height="38.0" fill="#6a6a6a"/>
<rect x="457.7" y="108.0" width="13.5" height="49.0" fill="#222222"/>
<rect x="472.3" y="112.0" width="10.6" height="42.0" fill="#747474"/>
<rect x="420" y="110" width="35" height="78" rx="6" fill="#1c1c1c"/>
<rect x="439.2" y="118" width="7.7" height="58" fill="#4a4a4a"/>
</g>
<g filter="url(#bt)" fill="none" stroke-linecap="round">
<path d="M80 315Q80.0 353.8 85.0 400.0" stroke="#c2c2c2" stroke-width="6.8"/>
<path d="M85.0 400.0Q90.0 446.2 100 500" stroke="#aaaaaa" stroke-width="5.0"/>
<path d="M175 315Q171.2 353.8 168.0 400.0" stroke="#c2c2c2" stroke-width="6.8"/>
<path d="M168.0 400.0Q164.8 446.2 162 500" stroke="#aaaaaa" stroke-width="5.0"/>
<path d="M268 315Q275.5 353.8 279.0 400.0" stroke="#c2c2c2" stroke-width="6.8"/>
<path d="M279.0 400.0Q282.5 446.2 282 500" stroke="#aaaaaa" stroke-width="5.0"/>
<path d="M365 300Q360.8 352.0 360.0 400.0" stroke="#c2c2c2" stroke-width="6.8"/>
<path d="M360.0 400.0Q359.2 448.0 362 492" stroke="#aaaaaa" stroke-width="5.0"/>
</g>
<g filter="url(#mf)">
<use href="#mouse" transform="translate(80 139) rotate(0) scale(1.013 1.153)"/>
<use href="#mouse" transform="translate(170 139) rotate(0) scale(1.013 1.153)"/>
<use href="#mouse" transform="translate(265 139) rotate(0) scale(1.013 1.153)"/>
<use href="#mouse" transform="translate(360 139) rotate(0) scale(1.013 1.073)"/>
</g>
<rect x="25" y="25" width="470" height="85" filter="url(#grain)" opacity="0.11"/>
<rect x="15.0" y="15.0" width="498.0" height="492.3" filter="url(#grain)" opacity="0.02"/>
</g></g>
<clipPath id="clip36_371"><rect x="36.0" y="371.3" width="86.0" height="85.4"/></clipPath>
<rect x="36.0" y="371.3" width="86.0" height="85.4" fill="#262626"/>
<g clip-path="url(#clip36_371)">
<g transform="translate(34 369) scale(0.17308)">
<rect x="19.6" y="21.3" width="480.9" height="477.4" fill="url(#bgg)" filter="url(#b1)"/>
<rect x="19.6" y="21.3" width="480.9" height="134.7" fill="#333333" filter="url(#b1)"/>
<rect x="25.6" y="172.0" width="468.9" height="286.7" fill="#3d3d3d" filter="url(#b3)"/>
<rect x="19.6" y="468.7" width="480.9" height="30" fill="#434343" filter="url(#b1)"/>
<g filter="url(#b1)">
<rect x="20" y="20" width="475" height="80" fill="url(#barg)"/>
</g>
<ellipse cx="257.5" cy="53.6" rx="142.5" ry="17.6" fill="#8c8c8c" opacity="0.75" filter="url(#b3)"/>
<g filter="url(#b2)">
<ellipse cx="148.2" cy="84.0" rx="99.8" ry="6.4" fill="#b0b0b0"/>
<ellipse cx="115.0" cy="84.0" rx="61.8" ry="6.0" fill="#dadada"/>
<ellipse cx="86.5" cy="84.0" rx="28.5" ry="5.6" fill="#f2f2f2"/>
<ellipse cx="430.9" cy="84.0" rx="42.8" ry="10.4" fill="#ffffff"/>
<ellipse cx="428.5" cy="84.0" rx="28.5" ry="7.2" fill="#ffffff"/>
<ellipse cx="305.0" cy="84.0" rx="66.5" ry="4.8" fill="#8e8e8e"/>
</g>
<g filter="url(#b1)">
<rect x="42.0" y="98.0" width="13.6" height="48.0" fill="#222222"/>
<rect x="56.8" y="102.0" width="10.7" height="38.0" fill="#565656"/>
<rect x="71.7" y="98.0" width="13.6" height="50.0" fill="#222222"/>
<rect x="86.5" y="102.0" width="10.7" height="42.0" fill="#505050"/>
<rect x="101.3" y="98.0" width="13.6" height="52.0" fill="#222222"/>
<rect x="116.2" y="102.0" width="10.7" height="46.0" fill="#5e5e5e"/>
<rect x="131.0" y="98.0" width="13.6" height="49.0" fill="#222222"/>
<rect x="145.8" y="102.0" width="10.7" height="40.0" fill="#6a6a6a"/>
<rect x="160.7" y="98.0" width="13.6" height="51.0" fill="#222222"/>
<rect x="175.5" y="102.0" width="10.7" height="44.0" fill="#747474"/>
<rect x="190.3" y="98.0" width="13.6" height="48.0" fill="#222222"/>
<rect x="205.2" y="102.0" width="10.7" height="38.0" fill="#565656"/>
<rect x="220.0" y="98.0" width="13.6" height="50.0" fill="#222222"/>
<rect x="234.8" y="102.0" width="10.7" height="42.0" fill="#505050"/>
<rect x="249.7" y="98.0" width="13.6" height="52.0" fill="#222222"/>
<rect x="264.5" y="102.0" width="10.7" height="46.0" fill="#5e5e5e"/>
<rect x="279.3" y="98.0" width="13.6" height="49.0" fill="#222222"/>
<rect x="294.2" y="102.0" width="10.7" height="40.0" fill="#6a6a6a"/>
<rect x="309.0" y="98.0" width="13.6" height="51.0" fill="#222222"/>
<rect x="323.8" y="102.0" width="10.7" height="44.0" fill="#747474"/>
<rect x="338.7" y="98.0" width="13.6" height="48.0" fill="#222222"/>
<rect x="353.5" y="102.0" width="10.7" height="38.0" fill="#565656"/>
<rect x="368.3" y="98.0" width="13.6" height="50.0" fill="#222222"/>
<rect x="383.2" y="102.0" width="10.7" height="42.0" fill="#505050"/>
<rect x="398.0" y="98.0" width="13.6" height="52.0" fill="#222222"/>
<rect x="412.8" y="102.0" width="10.7" height="46.0" fill="#5e5e5e"/>
<rect x="427.7" y="98.0" width="13.6" height="49.0" fill="#222222"/>
<rect x="442.5" y="102.0" width="10.7" height="40.0" fill="#6a6a6a"/>
<rect x="457.3" y="98.0" width="13.6" height="51.0" fill="#222222"/>
<rect x="472.2" y="102.0" width="10.7" height="44.0" fill="#747474"/>
<rect x="415" y="100" width="35" height="95" rx="6" fill="#1c1c1c"/>
<rect x="434.2" y="108" width="7.7" height="75" fill="#4a4a4a"/>
</g>
<g filter="url(#bt)" fill="none" stroke-linecap="round">
<path d="M70 315Q72.8 358.2 84.0 400.0" stroke="#c2c2c2" stroke-width="6.8"/>
<path d="M84.0 400.0Q95.2 441.8 115 482" stroke="#aaaaaa" stroke-width="5.0"/>
<path d="M150 300Q173.5 341.0 186.0 385.0" stroke="#c2c2c2" stroke-width="6.8"/>
<path d="M186.0 385.0Q198.5 429.0 200 476" stroke="#aaaaaa" stroke-width="5.0"/>
<path d="M265 300Q289.2 341.0 288.0 385.0" stroke="#c2c2c2" stroke-width="6.8"/>
<path d="M288.0 385.0Q286.8 429.0 260 476" stroke="#aaaaaa" stroke-width="5.0"/>
<path d="M370 305Q374.8 352.2 376.0 400.0" stroke="#c2c2c2" stroke-width="6.8"/>
<path d="M376.0 400.0Q377.2 447.8 375 496" stroke="#aaaaaa" stroke-width="5.0"/>
</g>
<g filter="url(#mf)">
<use href="#mouseD" transform="translate(75 134) rotate(0) scale(1.013 1.140)"/>
<use href="#mouseD" transform="translate(165 134) rotate(8) scale(1.013 1.073)"/>
<use href="#mouseD" transform="translate(260 134) rotate(0) scale(1.013 1.093)"/>
<use href="#mouseD" transform="translate(355 134) rotate(0) scale(1.013 1.140)"/>
</g>
<rect x="20" y="20" width="475" height="80" filter="url(#grain)" opacity="0.11"/>
<rect x="11.6" y="13.3" width="496.9" height="493.4" filter="url(#grain)" opacity="0.02"/>
</g></g>
<clipPath id="clip310_371"><rect x="310.6" y="371.3" width="86.2" height="85.4"/></clipPath>
<rect x="310.6" y="371.3" width="86.2" height="85.4" fill="#262626"/>
<g clip-path="url(#clip310_371)">
<g transform="translate(308 369) scale(0.17308)">
<rect x="23.0" y="21.3" width="482.0" height="477.4" fill="url(#bgg)" filter="url(#b1)"/>
<rect x="23.0" y="21.3" width="482.0" height="134.7" fill="#333333" filter="url(#b1)"/>
<rect x="29.0" y="172.0" width="470.0" height="286.7" fill="#3d3d3d" filter="url(#b3)"/>
<rect x="23.0" y="468.7" width="482.0" height="30" fill="#434343" filter="url(#b1)"/>
<g filter="url(#b1)">
<rect x="20" y="20" width="475" height="80" fill="url(#barg)"/>
</g>
<ellipse cx="257.5" cy="53.6" rx="142.5" ry="17.6" fill="#8c8c8c" opacity="0.75" filter="url(#b3)"/>
<g filter="url(#b2)">
<ellipse cx="148.2" cy="84.0" rx="99.8" ry="6.4" fill="#b0b0b0"/>
<ellipse cx="115.0" cy="84.0" rx="61.8" ry="6.0" fill="#dadada"/>
<ellipse cx="86.5" cy="84.0" rx="28.5" ry="5.6" fill="#f2f2f2"/>
<ellipse cx="430.9" cy="84.0" rx="42.8" ry="10.4" fill="#ffffff"/>
<ellipse cx="428.5" cy="84.0" rx="28.5" ry="7.2" fill="#ffffff"/>
<ellipse cx="305.0" cy="84.0" rx="66.5" ry="4.8" fill="#8e8e8e"/>
</g>
<g filter="url(#b1)">
<rect x="42.0" y="98.0" width="13.6" height="48.0" fill="#222222"/>
<rect x="56.8" y="102.0" width="10.7" height="38.0" fill="#565656"/>
<rect x="71.7" y="98.0" width="13.6" height="50.0" fill="#222222"/>
<rect x="86.5" y="102.0" width="10.7" height="42.0" fill="#505050"/>
<rect x="101.3" y="98.0" width="13.6" height="52.0" fill="#222222"/>
<rect x="116.2" y="102.0" width="10.7" height="46.0" fill="#5e5e5e"/>
<rect x="131.0" y="98.0" width="13.6" height="49.0" fill="#222222"/>
<rect x="145.8" y="102.0" width="10.7" height="40.0" fill="#6a6a6a"/>
<rect x="160.7" y="98.0" width="13.6" height="51.0" fill="#222222"/>
<rect x="175.5" y="102.0" width="10.7" height="44.0" fill="#747474"/>
<rect x="190.3" y="98.0" width="13.6" height="48.0" fill="#222222"/>
<rect x="205.2" y="102.0" width="10.7" height="38.0" fill="#565656"/>
<rect x="220.0" y="98.0" width="13.6" height="50.0" fill="#222222"/>
<rect x="234.8" y="102.0" width="10.7" height="42.0" fill="#505050"/>
<rect x="249.7" y="98.0" width="13.6" height="52.0" fill="#222222"/>
<rect x="264.5" y="102.0" width="10.7" height="46.0" fill="#5e5e5e"/>
<rect x="279.3" y="98.0" width="13.6" height="49.0" fill="#222222"/>
<rect x="294.2" y="102.0" width="10.7" height="40.0" fill="#6a6a6a"/>
<rect x="309.0" y="98.0" width="13.6" height="51.0" fill="#222222"/>
<rect x="323.8" y="102.0" width="10.7" height="44.0" fill="#747474"/>
<rect x="338.7" y="98.0" width="13.6" height="48.0" fill="#222222"/>
<rect x="353.5" y="102.0" width="10.7" height="38.0" fill="#565656"/>
<rect x="368.3" y="98.0" width="13.6" height="50.0" fill="#222222"/>
<rect x="383.2" y="102.0" width="10.7" height="42.0" fill="#505050"/>
<rect x="398.0" y="98.0" width="13.6" height="52.0" fill="#222222"/>
<rect x="412.8" y="102.0" width="10.7" height="46.0" fill="#5e5e5e"/>
<rect x="427.7" y="98.0" width="13.6" height="49.0" fill="#222222"/>
<rect x="442.5" y="102.0" width="10.7" height="40.0" fill="#6a6a6a"/>
<rect x="457.3" y="98.0" width="13.6" height="51.0" fill="#222222"/>
<rect x="472.2" y="102.0" width="10.7" height="44.0" fill="#747474"/>
<rect x="330" y="100" width="32" height="72" rx="6" fill="#1c1c1c"/>
<rect x="347.6" y="108" width="7.0" height="52" fill="#4a4a4a"/>
<rect x="418" y="100" width="37" height="95" rx="6" fill="#1c1c1c"/>
<rect x="438.4" y="108" width="8.1" height="75" fill="#4a4a4a"/>
</g>
<g filter="url(#bt)" fill="none" stroke-linecap="round">
<path d="M60 320Q49.5 357.0 42.0 400.0" stroke="#c2c2c2" stroke-width="6.8"/>
<path d="M42.0 400.0Q34.5 443.0 30 492" stroke="#aaaaaa" stroke-width="5.0"/>
<path d="M185 310Q187.2 354.5 186.0 400.0" stroke="#c2c2c2" stroke-width="6.8"/>
<path d="M186.0 400.0Q184.8 445.5 180 492" stroke="#aaaaaa" stroke-width="5.0"/>
<path d="M275 310Q280.0 353.5 285.0 400.0" stroke="#c2c2c2" stroke-width="6.8"/>
<path d="M285.0 400.0Q290.0 446.5 295 496" stroke="#aaaaaa" stroke-width="5.0"/>
</g>
<g filter="url(#mf)">
<use href="#mouse" transform="translate(75 139) rotate(0) scale(1.013 1.153)"/>
<use href="#mouse" transform="translate(185 139) rotate(0) scale(1.013 1.107)"/>
<use href="#mouse" transform="translate(265 139) rotate(0) scale(1.013 1.107)"/>
</g>
<rect x="20" y="20" width="475" height="80" filter="url(#grain)" opacity="0.11"/>
<rect x="15.0" y="13.3" width="498.0" height="493.4" filter="url(#grain)" opacity="0.02"/>
</g></g>
<clipPath id="clip36_466"><rect x="36.0" y="466.8" width="86.0" height="85.0"/></clipPath>
<rect x="36.0" y="466.8" width="86.0" height="85.0" fill="#262626"/>
<g clip-path="url(#clip36_466)">
<g transform="translate(34 464) scale(0.17308)">
<rect x="19.6" y="24.2" width="480.9" height="475.1" fill="url(#bgg)" filter="url(#b1)"/>
<rect x="19.6" y="24.2" width="480.9" height="134.8" fill="#333333" filter="url(#b1)"/>
<rect x="25.6" y="175.0" width="468.9" height="284.3" fill="#3d3d3d" filter="url(#b3)"/>
<rect x="19.6" y="469.3" width="480.9" height="30" fill="#434343" filter="url(#b1)"/>
<g filter="url(#b1)">
<rect x="30" y="20" width="470" height="80" fill="url(#barg)"/>
</g>
<ellipse cx="265.0" cy="53.6" rx="141.0" ry="17.6" fill="#8c8c8c" opacity="0.75" filter="url(#b3)"/>
<g filter="url(#b2)">
<ellipse cx="156.9" cy="84.0" rx="98.7" ry="6.4" fill="#b0b0b0"/>
<ellipse cx="124.0" cy="84.0" rx="61.1" ry="6.0" fill="#dadada"/>
<ellipse cx="95.8" cy="84.0" rx="28.2" ry="5.6" fill="#f2f2f2"/>
<ellipse cx="436.6" cy="84.0" rx="42.3" ry="10.4" fill="#ffffff"/>
<ellipse cx="434.2" cy="84.0" rx="28.2" ry="7.2" fill="#ffffff"/>
<ellipse cx="312.0" cy="84.0" rx="65.8" ry="4.8" fill="#8e8e8e"/>
</g>
<g filter="url(#b1)">
<rect x="52.0" y="98.0" width="13.5" height="51.0" fill="#222222"/>
<rect x="66.7" y="102.0" width="10.6" height="41.0" fill="#565656"/>
<rect x="81.3" y="98.0" width="13.5" height="53.0" fill="#222222"/>
<rect x="96.0" y="102.0" width="10.6" height="45.0" fill="#505050"/>
<rect x="110.7" y="98.0" width="13.5" height="55.0" fill="#222222"/>
<rect x="125.3" y="102.0" width="10.6" height="49.0" fill="#5e5e5e"/>
<rect x="140.0" y="98.0" width="13.5" height="52.0" fill="#222222"/>
<rect x="154.7" y="102.0" width="10.6" height="43.0" fill="#6a6a6a"/>
<rect x="169.3" y="98.0" width="13.5" height="54.0" fill="#222222"/>
<rect x="184.0" y="102.0" width="10.6" height="47.0" fill="#747474"/>
<rect x="198.7" y="98.0" width="13.5" height="51.0" fill="#222222"/>
<rect x="213.3" y="102.0" width="10.6" height="41.0" fill="#565656"/>
<rect x="228.0" y="98.0" width="13.5" height="53.0" fill="#222222"/>
<rect x="242.7" y="102.0" width="10.6" height="45.0" fill="#505050"/>
<rect x="257.3" y="98.0" width="13.5" height="55.0" fill="#222222"/>
<rect x="272.0" y="102.0" width="10.6" height="49.0" fill="#5e5e5e"/>
<rect x="286.7" y="98.0" width="13.5" height="52.0" fill="#222222"/>
<rect x="301.3" y="102.0" width="10.6" height="43.0" fill="#6a6a6a"/>
<rect x="316.0" y="98.0" width="13.5" height="54.0" fill="#222222"/>
<rect x="330.7" y="102.0" width="10.6" height="47.0" fill="#747474"/>
<rect x="345.3" y="98.0" width="13.5" height="51.0" fill="#222222"/>
<rect x="360.0" y="102.0" width="10.6" height="41.0" fill="#565656"/>
<rect x="374.7" y="98.0" width="13.5" height="53.0" fill="#222222"/>
<rect x="389.3" y="102.0" width="10.6" height="45.0" fill="#505050"/>
<rect x="404.0" y="98.0" width="13.5" height="55.0" fill="#222222"/>
<rect x="418.7" y="102.0" width="10.6" height="49.0" fill="#5e5e5e"/>
<rect x="433.3" y="98.0" width="13.5" height="52.0" fill="#222222"/>
<rect x="448.0" y="102.0" width="10.6" height="43.0" fill="#6a6a6a"/>
<rect x="462.7" y="98.0" width="13.5" height="54.0" fill="#222222"/>
<rect x="477.3" y="102.0" width="10.6" height="47.0" fill="#747474"/>
<rect x="425" y="100" width="37" height="65" rx="6" fill="#1c1c1c"/>
<rect x="445.4" y="108" width="8.1" height="45" fill="#4a4a4a"/>
</g>
<g filter="url(#bt)" fill="none" stroke-linecap="round">
<path d="M115 325Q104.5 358.2 102.0 400.0" stroke="#c2c2c2" stroke-width="6.8"/>
<path d="M102.0 400.0Q99.5 441.8 105 492" stroke="#aaaaaa" stroke-width="5.0"/>
<path d="M195 320Q216.5 357.0 214.0 400.0" stroke="#c2c2c2" stroke-width="6.8"/>
<path d="M214.0 400.0Q211.5 443.0 185 492" stroke="#aaaaaa" stroke-width="5.0"/>
<path d="M285 315Q291.2 357.2 300.0 400.0" stroke="#c2c2c2" stroke-width="6.8"/>
<path d="M300.0 400.0Q308.8 442.8 320 486" stroke="#aaaaaa" stroke-width="5.0"/>
<path d="M370 305Q390.8 338.2 402.0 385.0" stroke="#c2c2c2" stroke-width="6.8"/>
<path d="M402.0 385.0Q413.2 431.8 415 492" stroke="#aaaaaa" stroke-width="5.0"/>
</g>
<g filter="url(#mf)">
<use href="#mouse" transform="translate(95 134) rotate(0) scale(1.013 1.227)"/>
<use href="#mouse" transform="translate(185 134) rotate(0) scale(1.013 1.207)"/>
<use href="#mouse" transform="translate(275 134) rotate(0) scale(1.013 1.173)"/>
<use href="#mouse" transform="translate(365 134) rotate(0) scale(1.013 1.120)"/>
</g>
<rect x="30" y="20" width="470" height="80" filter="url(#grain)" opacity="0.11"/>
<rect x="11.6" y="16.2" width="496.9" height="491.1" filter="url(#grain)" opacity="0.02"/>
</g></g>
<clipPath id="clip310_466"><rect x="310.6" y="466.8" width="86.2" height="85.0"/></clipPath>
<rect x="310.6" y="466.8" width="86.2" height="85.0" fill="#262626"/>
<g clip-path="url(#clip310_466)">
<g transform="translate(308 464) scale(0.17308)">
<rect x="23.0" y="24.2" width="482.0" height="475.1" fill="url(#bgg)" filter="url(#b1)"/>
<rect x="23.0" y="24.2" width="482.0" height="154.8" fill="#333333" filter="url(#b1)"/>
<rect x="29.0" y="195.0" width="470.0" height="264.3" fill="#3d3d3d" filter="url(#b3)"/>
<rect x="23.0" y="469.3" width="482.0" height="30" fill="#434343" filter="url(#b1)"/>
<g filter="url(#b1)">
<rect x="40" y="45" width="460" height="80" fill="url(#barg)"/>
</g>
<ellipse cx="270.0" cy="78.6" rx="138.0" ry="17.6" fill="#8c8c8c" opacity="0.75" filter="url(#b3)"/>
<g filter="url(#b2)">
<ellipse cx="164.2" cy="109.0" rx="96.6" ry="6.4" fill="#b0b0b0"/>
<ellipse cx="132.0" cy="109.0" rx="59.8" ry="6.0" fill="#dadada"/>
<ellipse cx="104.4" cy="109.0" rx="27.6" ry="5.6" fill="#f2f2f2"/>
<ellipse cx="437.9" cy="109.0" rx="41.4" ry="10.4" fill="#ffffff"/>
<ellipse cx="435.6" cy="109.0" rx="27.6" ry="7.2" fill="#ffffff"/>
<ellipse cx="316.0" cy="109.0" rx="64.4" ry="4.8" fill="#8e8e8e"/>
</g>
<g filter="url(#b1)">
<rect x="62.0" y="123.0" width="13.2" height="46.0" fill="#222222"/>
<rect x="76.3" y="127.0" width="10.3" height="36.0" fill="#565656"/>
<rect x="90.7" y="123.0" width="13.2" height="48.0" fill="#222222"/>
<rect x="105.0" y="127.0" width="10.3" height="40.0" fill="#505050"/>
<rect x="119.3" y="123.0" width="13.2" height="50.0" fill="#222222"/>
<rect x="133.7" y="127.0" width="10.3" height="44.0" fill="#5e5e5e"/>
<rect x="148.0" y="123.0" width="13.2" height="47.0" fill="#222222"/>
<rect x="162.3" y="127.0" width="10.3" height="38.0" fill="#6a6a6a"/>
<rect x="176.7" y="123.0" width="13.2" height="49.0" fill="#222222"/>
<rect x="191.0" y="127.0" width="10.3" height="42.0" fill="#747474"/>
<rect x="205.3" y="123.0" width="13.2" height="46.0" fill="#222222"/>
<rect x="219.7" y="127.0" width="10.3" height="36.0" fill="#565656"/>
<rect x="234.0" y="123.0" width="13.2" height="48.0" fill="#222222"/>
<rect x="248.3" y="127.0" width="10.3" height="40.0" fill="#505050"/>
<rect x="262.7" y="123.0" width="13.2" height="50.0" fill="#222222"/>
<rect x="277.0" y="127.0" width="10.3" height="44.0" fill="#5e5e5e"/>
<rect x="291.3" y="123.0" width="13.2" height="47.0" fill="#222222"/>
<rect x="305.7" y="127.0" width="10.3" height="38.0" fill="#6a6a6a"/>
<rect x="320.0" y="123.0" width="13.2" height="49.0" fill="#222222"/>
<rect x="334.3" y="127.0" width="10.3" height="42.0" fill="#747474"/>
<rect x="348.7" y="123.0" width="13.2" height="46.0" fill="#222222"/>
<rect x="363.0" y="127.0" width="10.3" height="36.0" fill="#565656"/>
<rect x="377.3" y="123.0" width="13.2" height="48.0" fill="#222222"/>
<rect x="391.7" y="127.0" width="10.3" height="40.0" fill="#505050"/>
<rect x="406.0" y="123.0" width="13.2" height="50.0" fill="#222222"/>
<rect x="420.3" y="127.0" width="10.3" height="44.0" fill="#5e5e5e"/>
<rect x="434.7" y="123.0" width="13.2" height="47.0" fill="#222222"/>
<rect x="449.0" y="127.0" width="10.3" height="38.0" fill="#6a6a6a"/>
<rect x="463.3" y="123.0" width="13.2" height="49.0" fill="#222222"/>
<rect x="477.7" y="127.0" width="10.3" height="42.0" fill="#747474"/>
<rect x="340" y="125" width="35" height="63" rx="6" fill="#1c1c1c"/>
<rect x="359.2" y="133" width="7.7" height="43" fill="#4a4a4a"/>
<rect x="430" y="125" width="36" height="63" rx="6" fill="#1c1c1c"/>
<rect x="449.8" y="133" width="7.9" height="43" fill="#4a4a4a"/>
</g>
<g filter="url(#bt)" fill="none" stroke-linecap="round">
<path d="M95 330Q100.8 359.5 102.0 400.0" stroke="#c2c2c2" stroke-width="6.8"/>
<path d="M102.0 400.0Q103.2 440.5 100 492" stroke="#aaaaaa" stroke-width="5.0"/>
<path d="M195 330Q192.8 373.5 204.0 415.0" stroke="#c2c2c2" stroke-width="6.8"/>
<path d="M204.0 415.0Q215.2 456.5 240 496" stroke="#aaaaaa" stroke-width="5.0"/>
<path d="M290 330Q284.0 373.5 294.0 415.0" stroke="#c2c2c2" stroke-width="6.8"/>
<path d="M294.0 415.0Q304.0 456.5 330 496" stroke="#aaaaaa" stroke-width="5.0"/>
</g>
<g filter="url(#mf)">
<use href="#mouse" transform="translate(90 162) rotate(0) scale(1.039 1.107)"/>
<use href="#mouse" transform="translate(195 162) rotate(0) scale(1.039 1.107)"/>
<use href="#mouse" transform="translate(285 162) rotate(0) scale(1.039 1.107)"/>
</g>
<rect x="40" y="45" width="460" height="80" filter="url(#grain)" opacity="0.11"/>
<rect x="15.0" y="16.2" width="498.0" height="491.1" filter="url(#grain)" opacity="0.02"/>
</g></g></g>
<g id="labels" opacity="0.999"><text x="79.0" y="175.6" font-size="8.4" text-anchor="middle" textLength="11.2" lengthAdjust="spacingAndGlyphs" fill="#111" stroke="#111" stroke-width="0.12" >BM</text>
<text x="170.8" y="175.6" font-size="8.4" text-anchor="middle" textLength="41.5" lengthAdjust="spacingAndGlyphs" fill="#111" stroke="#111" stroke-width="0.12" >BM+C1498</text>
<text x="220.5" y="175.6" font-size="8.4" text-anchor="start" textLength="82.8" lengthAdjust="spacingAndGlyphs" fill="#111" stroke="#111" stroke-width="0.12" >BM+C1498+T+Vehicle</text>
<text x="310.0" y="175.6" font-size="8.4" text-anchor="start" textLength="87.5" lengthAdjust="spacingAndGlyphs" fill="#111" stroke="#111" stroke-width="0.12" >BM+C1498+T+IRX4204</text>
<text x="7.0" y="224.9" font-size="8.4" text-anchor="start" textLength="25.6" lengthAdjust="spacingAndGlyphs" fill="#111" stroke="#111" stroke-width="0.12" >Day 12</text>
<text x="7.0" y="320.9" font-size="8.4" text-anchor="start" textLength="25.6" lengthAdjust="spacingAndGlyphs" fill="#111" stroke="#111" stroke-width="0.12" >Day 20</text>
<text x="7.0" y="416.59999999999997" font-size="8.4" text-anchor="start" textLength="25.6" lengthAdjust="spacingAndGlyphs" fill="#111" stroke="#111" stroke-width="0.12" >Day 42</text>
<text x="7.0" y="511.9" font-size="8.4" text-anchor="start" textLength="25.6" lengthAdjust="spacingAndGlyphs" fill="#111" stroke="#111" stroke-width="0.12" >Day 70</text></g>
<g id="colorbar" opacity="0.999"><text x="434.9" y="145.5" font-size="8.4" text-anchor="start" textLength="51.2" lengthAdjust="spacingAndGlyphs" fill="#111" stroke="#111" stroke-width="0.12" >Luminescence</text>
<rect x="434.45" y="150.25" width="8.3" height="421.6" fill="url(#cbar)" stroke="#222" stroke-width="0.7"/>
<path d="M443.1 565.36H444.3" stroke="#222" stroke-width="0.7"/>
<path d="M443.1 540.22H444.3" stroke="#222" stroke-width="0.7"/>
<path d="M443.1 515.08H444.3" stroke="#222" stroke-width="0.7"/>
<path d="M443.1 489.94H444.3" stroke="#222" stroke-width="0.7"/>
<path d="M443.1 464.80H445.6" stroke="#222" stroke-width="0.7"/>
<text x="448.6" y="467.5" font-size="8.4" text-anchor="start" textLength="10.6" lengthAdjust="spacingAndGlyphs" fill="#111" stroke="#111" stroke-width="0.12" >2.0</text>
<path d="M443.1 439.66H444.3" stroke="#222" stroke-width="0.7"/>
<path d="M443.1 414.52H444.3" stroke="#222" stroke-width="0.7"/>
<path d="M443.1 389.38H444.3" stroke="#222" stroke-width="0.7"/>
<path d="M443.1 364.24H444.3" stroke="#222" stroke-width="0.7"/>
<path d="M443.1 339.10H445.6" stroke="#222" stroke-width="0.7"/>
<text x="448.6" y="341.8" font-size="8.4" text-anchor="start" textLength="10.6" lengthAdjust="spacingAndGlyphs" fill="#111" stroke="#111" stroke-width="0.12" >4.0</text>
<path d="M443.1 313.96H444.3" stroke="#222" stroke-width="0.7"/>
<path d="M443.1 288.82H444.3" stroke="#222" stroke-width="0.7"/>
<path d="M443.1 263.68H444.3" stroke="#222" stroke-width="0.7"/>
<path d="M443.1 238.54H444.3" stroke="#222" stroke-width="0.7"/>
<path d="M443.1 213.40H445.6" stroke="#222" stroke-width="0.7"/>
<text x="448.6" y="216.1" font-size="8.4" text-anchor="start" textLength="10.6" lengthAdjust="spacingAndGlyphs" fill="#111" stroke="#111" stroke-width="0.12" >6.0</text>
<path d="M443.1 188.26H444.3" stroke="#222" stroke-width="0.7"/>
<path d="M443.1 163.12H444.3" stroke="#222" stroke-width="0.7"/>
<g transform="translate(472.5 370.2) rotate(-90)"><text x="0" y="0" font-size="8.0" text-anchor="start" textLength="13.0" lengthAdjust="spacingAndGlyphs" fill="#111" stroke="#111" stroke-width="0.12" >x10</text><text x="13.4" y="-3.0" font-size="5.2" text-anchor="start" fill="#111" stroke="#111" stroke-width="0.1" >7</text></g>
<text x="435.0" y="582.7" font-size="8.4" text-anchor="start" textLength="33.0" lengthAdjust="spacingAndGlyphs" fill="#111" stroke="#111" stroke-width="0.12" >Radiance</text>
<text x="435.0" y="592.2" font-size="8.4" text-anchor="start" textLength="36.3" lengthAdjust="spacingAndGlyphs" fill="#111" stroke="#111" stroke-width="0.12" >(p/sec/cm</text>
<text x="472.2" y="589.4" font-size="4.6" text-anchor="start" fill="#111" stroke="#111" stroke-width="0.12" >2</text>
<text x="475.7" y="592.2" font-size="8.4" text-anchor="start" textLength="10.6" lengthAdjust="spacingAndGlyphs" fill="#111" stroke="#111" stroke-width="0.12" >/sr)</text>
<rect x="434.6" y="597.3" width="57.4" height="33.9" fill="#fff" stroke="#444" stroke-width="0.8"/>
<text x="437.9" y="607.3" font-size="8.4" text-anchor="start" textLength="41.8" lengthAdjust="spacingAndGlyphs" fill="#111" stroke="#111" stroke-width="0.12" >Color Scale</text>
<text x="437.9" y="617.0" font-size="8.4" text-anchor="start" textLength="49.0" lengthAdjust="spacingAndGlyphs" fill="#111" stroke="#111" stroke-width="0.12" >Min = 3.00e6</text>
<text x="437.9" y="626.6" font-size="8.4" text-anchor="start" textLength="50.4" lengthAdjust="spacingAndGlyphs" fill="#111" stroke="#111" stroke-width="0.12" >Max = 7.00e7</text></g>
<path d="M0 0H520V639H0Z M1 1V637.5H518.9V1Z" fill="#000" fill-rule="evenodd"/>
</svg></body></html>
